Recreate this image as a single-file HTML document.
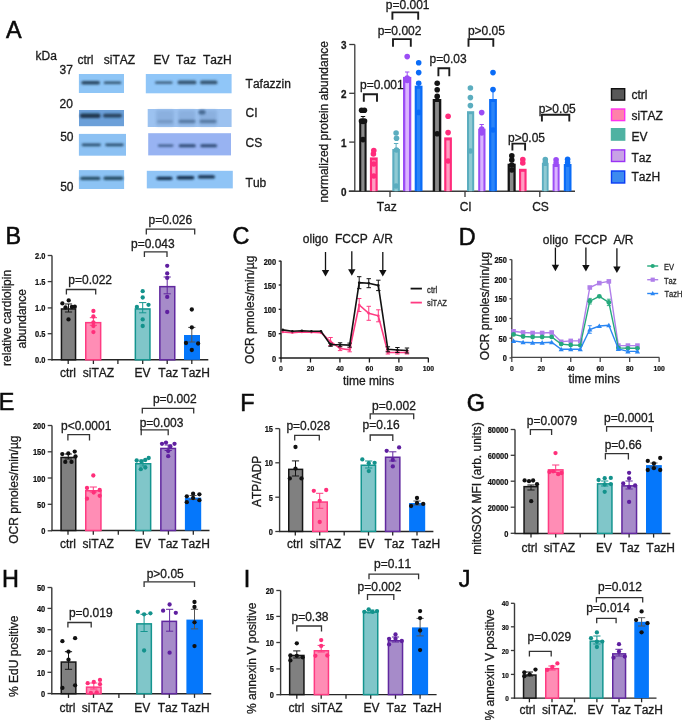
<!DOCTYPE html>
<html><head><meta charset="utf-8"><title>Figure</title>
<style>
html,body{margin:0;padding:0;background:#fff;width:685px;height:720px;overflow:hidden}
svg{display:block;font-family:"Liberation Sans", sans-serif;will-change:transform;font-kerning:none;filter:blur(0.3px)}
</style></head><body>
<svg width="685" height="720" viewBox="0 0 685 720">
<defs><filter id="bl" x="-20%" y="-150%" width="140%" height="400%"><feGaussianBlur stdDeviation="0.85"/></filter><filter id="bl2" x="-30%" y="-30%" width="160%" height="160%"><feGaussianBlur stdDeviation="1.6"/></filter><filter id="bb" x="-5%" y="-10%" width="110%" height="120%"><feGaussianBlur stdDeviation="0.35"/></filter></defs>
<rect x="0" y="0" width="685" height="720" fill="#ffffff"/>
<text x="5.9" y="37.9" font-size="23.4" fill="#0a0a0a" stroke="#0a0a0a" stroke-width="0.55">A</text>
<text x="5.5" y="243.6" font-size="23.4" fill="#0a0a0a" stroke="#0a0a0a" stroke-width="0.55">B</text>
<text x="232.6" y="244.1" font-size="23.4" fill="#0a0a0a" stroke="#0a0a0a" stroke-width="0.55">C</text>
<text x="458.8" y="244.7" font-size="23.4" fill="#0a0a0a" stroke="#0a0a0a" stroke-width="0.55">D</text>
<text x="-1.3" y="410" font-size="23.4" fill="#0a0a0a" stroke="#0a0a0a" stroke-width="0.55">E</text>
<text x="240.2" y="411" font-size="23.4" fill="#0a0a0a" stroke="#0a0a0a" stroke-width="0.55">F</text>
<text x="466.8" y="410.5" font-size="23.4" fill="#0a0a0a" stroke="#0a0a0a" stroke-width="0.55">G</text>
<text x="1.9" y="587" font-size="23.4" fill="#0a0a0a" stroke="#0a0a0a" stroke-width="0.55">H</text>
<text x="243.8" y="586.7" font-size="23.4" fill="#0a0a0a" stroke="#0a0a0a" stroke-width="0.55">I</text>
<text x="458.8" y="586.7" font-size="23.4" fill="#0a0a0a" stroke="#0a0a0a" stroke-width="0.55">J</text>
<line x1="52" y1="255.5" x2="52" y2="360.4" stroke="#3a3a3a" stroke-width="1.4"/>
<line x1="51.3" y1="359.8" x2="208.3" y2="359.8" stroke="#262626" stroke-width="1.45"/>
<line x1="47.7" y1="255.5" x2="52" y2="255.5" stroke="#3a3a3a" stroke-width="1.3"/>
<text x="0" y="0" font-size="8.3" font-weight="bold" text-anchor="end" fill="#111" transform="translate(45.4 259.07) scale(0.9 1)" stroke="#111" stroke-width="0.2">2.0</text>
<line x1="47.7" y1="281.6" x2="52" y2="281.6" stroke="#3a3a3a" stroke-width="1.3"/>
<text x="0" y="0" font-size="8.3" font-weight="bold" text-anchor="end" fill="#111" transform="translate(45.4 285.17) scale(0.9 1)" stroke="#111" stroke-width="0.2">1.5</text>
<line x1="47.7" y1="307.9" x2="52" y2="307.9" stroke="#3a3a3a" stroke-width="1.3"/>
<text x="0" y="0" font-size="8.3" font-weight="bold" text-anchor="end" fill="#111" transform="translate(45.4 311.47) scale(0.9 1)" stroke="#111" stroke-width="0.2">1.0</text>
<line x1="47.7" y1="333.7" x2="52" y2="333.7" stroke="#3a3a3a" stroke-width="1.3"/>
<text x="0" y="0" font-size="8.3" font-weight="bold" text-anchor="end" fill="#111" transform="translate(45.4 337.27) scale(0.9 1)" stroke="#111" stroke-width="0.2">0.5</text>
<line x1="47.7" y1="359.6" x2="52" y2="359.6" stroke="#3a3a3a" stroke-width="1.3"/>
<text x="0" y="0" font-size="8.3" font-weight="bold" text-anchor="end" fill="#111" transform="translate(45.4 363.17) scale(0.9 1)" stroke="#111" stroke-width="0.2">0.0</text>
<line x1="68.2" y1="359.8" x2="68.2" y2="364" stroke="#262626" stroke-width="1.3"/>
<line x1="93.4" y1="359.8" x2="93.4" y2="364" stroke="#262626" stroke-width="1.3"/>
<line x1="117.9" y1="359.8" x2="117.9" y2="364" stroke="#262626" stroke-width="1.3"/>
<line x1="142.7" y1="359.8" x2="142.7" y2="364" stroke="#262626" stroke-width="1.3"/>
<line x1="167.2" y1="359.8" x2="167.2" y2="364" stroke="#262626" stroke-width="1.3"/>
<line x1="191.8" y1="359.8" x2="191.8" y2="364" stroke="#262626" stroke-width="1.3"/>
<rect x="61.45" y="308.95" width="14.1" height="50.85" fill="#808080" stroke="#161616" stroke-width="1.5"/>
<rect x="85.75" y="322.65" width="14.9" height="37.15" fill="#ff8db5" stroke="#ff3b82" stroke-width="1.5"/>
<rect x="135.35" y="308.95" width="14.6" height="50.85" fill="#80c6c9" stroke="#14958f" stroke-width="1.5"/>
<rect x="159.85" y="286.65" width="14.9" height="73.15" fill="#a68bc9" stroke="#61289f" stroke-width="1.5"/>
<rect x="184" y="335" width="16" height="24.8" fill="#0577fb"/>
<line x1="68.5" y1="304" x2="68.5" y2="312" stroke="#161616" stroke-width="1"/>
<line x1="64.9" y1="304" x2="72.1" y2="304" stroke="#161616" stroke-width="1"/>
<line x1="64.9" y1="312" x2="72.1" y2="312" stroke="#161616" stroke-width="1"/>
<line x1="93.4" y1="317.7" x2="93.4" y2="325.3" stroke="#ff3b82" stroke-width="1"/>
<line x1="89.8" y1="317.7" x2="97" y2="317.7" stroke="#ff3b82" stroke-width="1"/>
<line x1="89.8" y1="325.3" x2="97" y2="325.3" stroke="#ff3b82" stroke-width="1"/>
<line x1="142.7" y1="302.6" x2="142.7" y2="312.8" stroke="#14958f" stroke-width="1"/>
<line x1="139.1" y1="302.6" x2="146.3" y2="302.6" stroke="#14958f" stroke-width="1"/>
<line x1="139.1" y1="312.8" x2="146.3" y2="312.8" stroke="#14958f" stroke-width="1"/>
<line x1="167.2" y1="277" x2="167.2" y2="293.8" stroke="#61289f" stroke-width="1"/>
<line x1="163.6" y1="277" x2="170.8" y2="277" stroke="#61289f" stroke-width="1"/>
<line x1="163.6" y1="293.8" x2="170.8" y2="293.8" stroke="#61289f" stroke-width="1"/>
<line x1="191.8" y1="327.4" x2="191.8" y2="342" stroke="#555555" stroke-width="1"/>
<line x1="188.2" y1="327.4" x2="195.4" y2="327.4" stroke="#555555" stroke-width="1"/>
<line x1="188.2" y1="342" x2="195.4" y2="342" stroke="#555555" stroke-width="1"/>
<circle cx="62.4" cy="303.4" r="2.15" fill="#111111"/>
<circle cx="68.7" cy="300.4" r="2.15" fill="#111111"/>
<circle cx="68.5" cy="319.4" r="2.15" fill="#111111"/>
<circle cx="74.8" cy="306.7" r="2.15" fill="#111111"/>
<circle cx="71.9" cy="307" r="2.15" fill="#111111"/>
<circle cx="65.5" cy="307.5" r="2.15" fill="#111111"/>
<circle cx="93.4" cy="311" r="2.15" fill="#ff2f7a"/>
<circle cx="93.4" cy="316.5" r="2.15" fill="#ff2f7a"/>
<circle cx="93.4" cy="322.3" r="2.15" fill="#ff2f7a"/>
<circle cx="93.4" cy="326" r="2.15" fill="#ff2f7a"/>
<circle cx="93.4" cy="332.1" r="2.15" fill="#ff2f7a"/>
<circle cx="142.7" cy="291.2" r="2.15" fill="#13928c"/>
<circle cx="142.7" cy="297.5" r="2.15" fill="#13928c"/>
<circle cx="142.7" cy="319.4" r="2.15" fill="#13928c"/>
<circle cx="142.7" cy="326" r="2.15" fill="#13928c"/>
<circle cx="136.9" cy="307" r="2.15" fill="#13928c"/>
<circle cx="148.5" cy="304.8" r="2.15" fill="#13928c"/>
<circle cx="167.2" cy="265.8" r="2.15" fill="#5f1fa0"/>
<circle cx="167.2" cy="273.4" r="2.15" fill="#5f1fa0"/>
<circle cx="167.2" cy="277.9" r="2.15" fill="#5f1fa0"/>
<circle cx="167.2" cy="296.9" r="2.15" fill="#5f1fa0"/>
<circle cx="167.2" cy="312" r="2.15" fill="#5f1fa0"/>
<circle cx="191.8" cy="309.5" r="2.15" fill="#111111"/>
<circle cx="191.8" cy="327.4" r="2.15" fill="#111111"/>
<circle cx="186" cy="343" r="2.15" fill="#111111"/>
<circle cx="198.1" cy="343.5" r="2.15" fill="#111111"/>
<circle cx="191.8" cy="350" r="2.15" fill="#111111"/>
<text x="59.9" y="377" font-size="12" fill="#1a1a1a" stroke="#1a1a1a" stroke-width="0.3">ctrl</text>
<text x="82.8" y="377" font-size="12" fill="#1a1a1a" stroke="#1a1a1a" stroke-width="0.3">siTAZ</text>
<text x="134.6" y="377" font-size="12" fill="#1a1a1a" stroke="#1a1a1a" stroke-width="0.3">EV</text>
<text x="158.2" y="377" font-size="12" fill="#1a1a1a" stroke="#1a1a1a" stroke-width="0.3">Taz</text>
<text x="181.3" y="377" font-size="12" fill="#1a1a1a" stroke="#1a1a1a" stroke-width="0.3">TazH</text>
<polyline points="66.4,294.6 66.4,289.5 95.7,289.5 95.7,294.6" fill="none" stroke="#333" stroke-width="1.3" stroke-linejoin="miter" stroke-linecap="butt"/>
<text x="68.3" y="283.7" font-size="12" fill="#1a1a1a" stroke="#1a1a1a" stroke-width="0.3">p=0.022</text>
<polyline points="144.4,257 144.4,251.9 167,251.9 167,257" fill="none" stroke="#333" stroke-width="1.3" stroke-linejoin="miter" stroke-linecap="butt"/>
<text x="131" y="247.8" font-size="12" fill="#1a1a1a" stroke="#1a1a1a" stroke-width="0.3">p=0.043</text>
<polyline points="146.3,234.6 146.3,229.2 194.7,229.2 194.7,234.6" fill="none" stroke="#333" stroke-width="1.3" stroke-linejoin="miter" stroke-linecap="butt"/>
<text x="148.5" y="223.6" font-size="12" fill="#1a1a1a" stroke="#1a1a1a" stroke-width="0.3">p=0.026</text>
<text x="10.8" y="317.9" font-size="12" text-anchor="middle" fill="#1a1a1a" transform="rotate(-90 10.8 317.9)" stroke="#1a1a1a" stroke-width="0.3">relative cardiolipin</text>
<text x="26.2" y="318.8" font-size="12" text-anchor="middle" fill="#1a1a1a" transform="rotate(-90 26.2 318.8)" stroke="#1a1a1a" stroke-width="0.3">abundance</text>
<line x1="52" y1="425.5" x2="52" y2="531.1" stroke="#3a3a3a" stroke-width="1.4"/>
<line x1="51.3" y1="530.5" x2="209.5" y2="530.5" stroke="#262626" stroke-width="1.45"/>
<line x1="47.7" y1="425.5" x2="52" y2="425.5" stroke="#3a3a3a" stroke-width="1.3"/>
<text x="0" y="0" font-size="8.3" font-weight="bold" text-anchor="end" fill="#111" transform="translate(45.4 429.07) scale(0.9 1)" stroke="#111" stroke-width="0.2">200</text>
<line x1="47.7" y1="451.8" x2="52" y2="451.8" stroke="#3a3a3a" stroke-width="1.3"/>
<text x="0" y="0" font-size="8.3" font-weight="bold" text-anchor="end" fill="#111" transform="translate(45.4 455.37) scale(0.9 1)" stroke="#111" stroke-width="0.2">150</text>
<line x1="47.7" y1="478" x2="52" y2="478" stroke="#3a3a3a" stroke-width="1.3"/>
<text x="0" y="0" font-size="8.3" font-weight="bold" text-anchor="end" fill="#111" transform="translate(45.4 481.57) scale(0.9 1)" stroke="#111" stroke-width="0.2">100</text>
<line x1="47.7" y1="504.3" x2="52" y2="504.3" stroke="#3a3a3a" stroke-width="1.3"/>
<text x="0" y="0" font-size="8.3" font-weight="bold" text-anchor="end" fill="#111" transform="translate(45.4 507.87) scale(0.9 1)" stroke="#111" stroke-width="0.2">50</text>
<line x1="47.7" y1="530.8" x2="52" y2="530.8" stroke="#3a3a3a" stroke-width="1.3"/>
<text x="0" y="0" font-size="8.3" font-weight="bold" text-anchor="end" fill="#111" transform="translate(45.4 534.37) scale(0.9 1)" stroke="#111" stroke-width="0.2">0</text>
<line x1="68" y1="530.5" x2="68" y2="534.7" stroke="#262626" stroke-width="1.3"/>
<line x1="93.3" y1="530.5" x2="93.3" y2="534.7" stroke="#262626" stroke-width="1.3"/>
<line x1="118.3" y1="530.5" x2="118.3" y2="534.7" stroke="#262626" stroke-width="1.3"/>
<line x1="143.3" y1="530.5" x2="143.3" y2="534.7" stroke="#262626" stroke-width="1.3"/>
<line x1="168.4" y1="530.5" x2="168.4" y2="534.7" stroke="#262626" stroke-width="1.3"/>
<line x1="193.3" y1="530.5" x2="193.3" y2="534.7" stroke="#262626" stroke-width="1.3"/>
<rect x="61.05" y="457.45" width="14.7" height="73.05" fill="#808080" stroke="#161616" stroke-width="1.5"/>
<rect x="85.75" y="490.75" width="15.2" height="39.75" fill="#ff8db5" stroke="#ff3b82" stroke-width="1.5"/>
<rect x="135.75" y="463.75" width="14.9" height="66.75" fill="#80c6c9" stroke="#14958f" stroke-width="1.5"/>
<rect x="160.85" y="448.45" width="14.6" height="82.05" fill="#a68bc9" stroke="#61289f" stroke-width="1.5"/>
<rect x="184.9" y="497.6" width="16.3" height="32.9" fill="#0577fb"/>
<line x1="68.3" y1="454" x2="68.3" y2="459" stroke="#161616" stroke-width="1"/>
<line x1="64.7" y1="454" x2="71.9" y2="454" stroke="#161616" stroke-width="1"/>
<line x1="64.7" y1="459" x2="71.9" y2="459" stroke="#161616" stroke-width="1"/>
<line x1="93.3" y1="487" x2="93.3" y2="492" stroke="#ff3b82" stroke-width="1"/>
<line x1="89.7" y1="487" x2="96.9" y2="487" stroke="#ff3b82" stroke-width="1"/>
<line x1="89.7" y1="492" x2="96.9" y2="492" stroke="#ff3b82" stroke-width="1"/>
<line x1="143" y1="460" x2="143" y2="466" stroke="#14958f" stroke-width="1"/>
<line x1="139.4" y1="460" x2="146.6" y2="460" stroke="#14958f" stroke-width="1"/>
<line x1="139.4" y1="466" x2="146.6" y2="466" stroke="#14958f" stroke-width="1"/>
<line x1="168.2" y1="445" x2="168.2" y2="450.5" stroke="#61289f" stroke-width="1"/>
<line x1="164.6" y1="445" x2="171.8" y2="445" stroke="#61289f" stroke-width="1"/>
<line x1="164.6" y1="450.5" x2="171.8" y2="450.5" stroke="#61289f" stroke-width="1"/>
<line x1="193.1" y1="495.5" x2="193.1" y2="499.5" stroke="#555555" stroke-width="1"/>
<line x1="189.5" y1="495.5" x2="196.7" y2="495.5" stroke="#555555" stroke-width="1"/>
<line x1="189.5" y1="499.5" x2="196.7" y2="499.5" stroke="#555555" stroke-width="1"/>
<circle cx="62.3" cy="454.1" r="2.15" fill="#111111"/>
<circle cx="68.3" cy="453.4" r="2.15" fill="#111111"/>
<circle cx="74.7" cy="451.6" r="2.15" fill="#111111"/>
<circle cx="65.3" cy="461.9" r="2.15" fill="#111111"/>
<circle cx="71.5" cy="461.9" r="2.15" fill="#111111"/>
<circle cx="75.5" cy="456.5" r="2.15" fill="#111111"/>
<circle cx="93.3" cy="475.5" r="2.15" fill="#ff2f7a"/>
<circle cx="87" cy="488" r="2.15" fill="#ff2f7a"/>
<circle cx="93.7" cy="492.5" r="2.15" fill="#ff2f7a"/>
<circle cx="99.7" cy="490" r="2.15" fill="#ff2f7a"/>
<circle cx="87" cy="498.7" r="2.15" fill="#ff2f7a"/>
<circle cx="99.7" cy="495.8" r="2.15" fill="#ff2f7a"/>
<circle cx="136.7" cy="460.5" r="2.15" fill="#13928c"/>
<circle cx="141.3" cy="461.3" r="2.15" fill="#13928c"/>
<circle cx="145.3" cy="460" r="2.15" fill="#13928c"/>
<circle cx="148.7" cy="458" r="2.15" fill="#13928c"/>
<circle cx="140.8" cy="469.2" r="2.15" fill="#13928c"/>
<circle cx="145.3" cy="467.5" r="2.15" fill="#13928c"/>
<circle cx="162" cy="443.8" r="2.15" fill="#5f1fa0"/>
<circle cx="166" cy="442.6" r="2.15" fill="#5f1fa0"/>
<circle cx="170.4" cy="446.4" r="2.15" fill="#5f1fa0"/>
<circle cx="174.5" cy="443.8" r="2.15" fill="#5f1fa0"/>
<circle cx="168.2" cy="451.1" r="2.15" fill="#5f1fa0"/>
<circle cx="168.2" cy="456.2" r="2.15" fill="#5f1fa0"/>
<circle cx="186.8" cy="496.3" r="2.15" fill="#111111"/>
<circle cx="193.1" cy="493.7" r="2.15" fill="#111111"/>
<circle cx="199.4" cy="494.3" r="2.15" fill="#111111"/>
<circle cx="193.1" cy="498" r="2.15" fill="#111111"/>
<circle cx="186.8" cy="502.2" r="2.15" fill="#111111"/>
<circle cx="199.4" cy="500.2" r="2.15" fill="#111111"/>
<text x="60" y="547.5" font-size="12" fill="#1a1a1a" stroke="#1a1a1a" stroke-width="0.3">ctrl</text>
<text x="82.5" y="547.5" font-size="12" fill="#1a1a1a" stroke="#1a1a1a" stroke-width="0.3">siTAZ</text>
<text x="135" y="547.5" font-size="12" fill="#1a1a1a" stroke="#1a1a1a" stroke-width="0.3">EV</text>
<text x="158.3" y="547.5" font-size="12" fill="#1a1a1a" stroke="#1a1a1a" stroke-width="0.3">Taz</text>
<text x="181.2" y="547.5" font-size="12" fill="#1a1a1a" stroke="#1a1a1a" stroke-width="0.3">TazH</text>
<polyline points="67.9,440.5 67.9,434.7 89.5,434.7 89.5,440.5" fill="none" stroke="#333" stroke-width="1.3" stroke-linejoin="miter" stroke-linecap="butt"/>
<text x="61" y="430" font-size="12" fill="#1a1a1a" stroke="#1a1a1a" stroke-width="0.3">p&lt;0.0001</text>
<polyline points="141.2,435.3 141.2,429.9 168.2,429.9 168.2,435.3" fill="none" stroke="#333" stroke-width="1.3" stroke-linejoin="miter" stroke-linecap="butt"/>
<text x="139.7" y="427" font-size="12" fill="#1a1a1a" stroke="#1a1a1a" stroke-width="0.3">p=0.003</text>
<polyline points="142.3,413.6 142.3,408.3 193.7,408.3 193.7,413.6" fill="none" stroke="#333" stroke-width="1.3" stroke-linejoin="miter" stroke-linecap="butt"/>
<text x="152.9" y="403.1" font-size="12" fill="#1a1a1a" stroke="#1a1a1a" stroke-width="0.3">p=0.002</text>
<text x="18.2" y="489.6" font-size="12" text-anchor="middle" fill="#1a1a1a" transform="rotate(-90 18.2 489.6)" stroke="#1a1a1a" stroke-width="0.3">OCR pmoles/min/µg</text>
<line x1="279.6" y1="428.6" x2="279.6" y2="532" stroke="#3a3a3a" stroke-width="1.4"/>
<line x1="278.9" y1="531.4" x2="433.4" y2="531.4" stroke="#262626" stroke-width="1.45"/>
<line x1="275.3" y1="428.6" x2="279.6" y2="428.6" stroke="#3a3a3a" stroke-width="1.3"/>
<text x="0" y="0" font-size="8.3" font-weight="bold" text-anchor="end" fill="#111" transform="translate(273 432.17) scale(0.9 1)" stroke="#111" stroke-width="0.2">15</text>
<line x1="275.3" y1="462.8" x2="279.6" y2="462.8" stroke="#3a3a3a" stroke-width="1.3"/>
<text x="0" y="0" font-size="8.3" font-weight="bold" text-anchor="end" fill="#111" transform="translate(273 466.37) scale(0.9 1)" stroke="#111" stroke-width="0.2">10</text>
<line x1="275.3" y1="497.2" x2="279.6" y2="497.2" stroke="#3a3a3a" stroke-width="1.3"/>
<text x="0" y="0" font-size="8.3" font-weight="bold" text-anchor="end" fill="#111" transform="translate(273 500.77) scale(0.9 1)" stroke="#111" stroke-width="0.2">5</text>
<line x1="275.3" y1="531.5" x2="279.6" y2="531.5" stroke="#3a3a3a" stroke-width="1.3"/>
<text x="0" y="0" font-size="8.3" font-weight="bold" text-anchor="end" fill="#111" transform="translate(273 535.07) scale(0.9 1)" stroke="#111" stroke-width="0.2">0</text>
<line x1="295.3" y1="531.4" x2="295.3" y2="535.6" stroke="#262626" stroke-width="1.3"/>
<line x1="319.7" y1="531.4" x2="319.7" y2="535.6" stroke="#262626" stroke-width="1.3"/>
<line x1="344.2" y1="531.4" x2="344.2" y2="535.6" stroke="#262626" stroke-width="1.3"/>
<line x1="368.5" y1="531.4" x2="368.5" y2="535.6" stroke="#262626" stroke-width="1.3"/>
<line x1="392.7" y1="531.4" x2="392.7" y2="535.6" stroke="#262626" stroke-width="1.3"/>
<line x1="417" y1="531.4" x2="417" y2="535.6" stroke="#262626" stroke-width="1.3"/>
<rect x="288.75" y="469.35" width="13.8" height="62.05" fill="#808080" stroke="#161616" stroke-width="1.5"/>
<rect x="312.75" y="502.05" width="14.5" height="29.35" fill="#ff8db5" stroke="#ff3b82" stroke-width="1.5"/>
<rect x="361.25" y="465.25" width="14.3" height="66.15" fill="#80c6c9" stroke="#14958f" stroke-width="1.5"/>
<rect x="385.55" y="457.25" width="14.3" height="74.15" fill="#a68bc9" stroke="#61289f" stroke-width="1.5"/>
<rect x="409.1" y="503" width="16.1" height="28.4" fill="#0577fb"/>
<line x1="295.5" y1="460.9" x2="295.5" y2="476" stroke="#161616" stroke-width="1"/>
<line x1="291.9" y1="460.9" x2="299.1" y2="460.9" stroke="#161616" stroke-width="1"/>
<line x1="291.9" y1="476" x2="299.1" y2="476" stroke="#161616" stroke-width="1"/>
<line x1="319.7" y1="493.3" x2="319.7" y2="508.3" stroke="#ff3b82" stroke-width="1"/>
<line x1="316.1" y1="493.3" x2="323.3" y2="493.3" stroke="#ff3b82" stroke-width="1"/>
<line x1="316.1" y1="508.3" x2="323.3" y2="508.3" stroke="#ff3b82" stroke-width="1"/>
<line x1="368.7" y1="461" x2="368.7" y2="468" stroke="#14958f" stroke-width="1"/>
<line x1="365.1" y1="461" x2="372.3" y2="461" stroke="#14958f" stroke-width="1"/>
<line x1="365.1" y1="468" x2="372.3" y2="468" stroke="#14958f" stroke-width="1"/>
<line x1="392.8" y1="451.8" x2="392.8" y2="461" stroke="#61289f" stroke-width="1"/>
<line x1="389.2" y1="451.8" x2="396.4" y2="451.8" stroke="#61289f" stroke-width="1"/>
<line x1="389.2" y1="461" x2="396.4" y2="461" stroke="#61289f" stroke-width="1"/>
<line x1="417" y1="501" x2="417" y2="505" stroke="#555555" stroke-width="1"/>
<line x1="413.4" y1="501" x2="420.6" y2="501" stroke="#555555" stroke-width="1"/>
<line x1="413.4" y1="505" x2="420.6" y2="505" stroke="#555555" stroke-width="1"/>
<circle cx="295.5" cy="447" r="2.15" fill="#111111"/>
<circle cx="295.5" cy="468.6" r="2.15" fill="#111111"/>
<circle cx="289.8" cy="478.4" r="2.15" fill="#111111"/>
<circle cx="301.5" cy="478.4" r="2.15" fill="#111111"/>
<circle cx="313.8" cy="490.8" r="2.15" fill="#ff2f7a"/>
<circle cx="326.2" cy="490" r="2.15" fill="#ff2f7a"/>
<circle cx="319.7" cy="500.8" r="2.15" fill="#ff2f7a"/>
<circle cx="319.7" cy="522" r="2.15" fill="#ff2f7a"/>
<circle cx="362.3" cy="459.4" r="2.15" fill="#13928c"/>
<circle cx="368.8" cy="463.2" r="2.15" fill="#13928c"/>
<circle cx="374.6" cy="462.8" r="2.15" fill="#13928c"/>
<circle cx="368.8" cy="471.1" r="2.15" fill="#13928c"/>
<circle cx="386.7" cy="450.8" r="2.15" fill="#5f1fa0"/>
<circle cx="399.1" cy="447.4" r="2.15" fill="#5f1fa0"/>
<circle cx="392.8" cy="459.9" r="2.15" fill="#5f1fa0"/>
<circle cx="392.8" cy="466.4" r="2.15" fill="#5f1fa0"/>
<circle cx="417" cy="498" r="2.15" fill="#111111"/>
<circle cx="411.1" cy="506" r="2.15" fill="#111111"/>
<circle cx="417" cy="503" r="2.15" fill="#111111"/>
<circle cx="423.2" cy="503.9" r="2.15" fill="#111111"/>
<text x="287" y="548" font-size="12" fill="#1a1a1a" stroke="#1a1a1a" stroke-width="0.3">ctrl</text>
<text x="309.7" y="548" font-size="12" fill="#1a1a1a" stroke="#1a1a1a" stroke-width="0.3">siTAZ</text>
<text x="358.5" y="548" font-size="12" fill="#1a1a1a" stroke="#1a1a1a" stroke-width="0.3">EV</text>
<text x="384.4" y="548" font-size="12" fill="#1a1a1a" stroke="#1a1a1a" stroke-width="0.3">Taz</text>
<text x="411.5" y="548" font-size="12" fill="#1a1a1a" stroke="#1a1a1a" stroke-width="0.3">TazH</text>
<polyline points="294.7,440.5 294.7,435.4 319.3,435.4 319.3,440.5" fill="none" stroke="#333" stroke-width="1.3" stroke-linejoin="miter" stroke-linecap="butt"/>
<text x="286.4" y="429.5" font-size="12" fill="#1a1a1a" stroke="#1a1a1a" stroke-width="0.3">p=0.028</text>
<polyline points="370.2,440.9 370.2,435 392.8,435 392.8,440.9" fill="none" stroke="#333" stroke-width="1.3" stroke-linejoin="miter" stroke-linecap="butt"/>
<text x="362.6" y="429.2" font-size="12" fill="#1a1a1a" stroke="#1a1a1a" stroke-width="0.3">p=0.16</text>
<polyline points="370.2,419.3 370.2,413.9 413.7,413.9 413.7,419.3" fill="none" stroke="#333" stroke-width="1.3" stroke-linejoin="miter" stroke-linecap="butt"/>
<text x="372.1" y="409.5" font-size="12" fill="#1a1a1a" stroke="#1a1a1a" stroke-width="0.3">p=0.002</text>
<text x="260.6" y="481.3" font-size="12" text-anchor="middle" fill="#1a1a1a" transform="rotate(-90 260.6 481.3)" stroke="#1a1a1a" stroke-width="0.3">ATP/ADP</text>
<line x1="515" y1="429.5" x2="515" y2="534" stroke="#3a3a3a" stroke-width="1.4"/>
<line x1="514.3" y1="533.4" x2="670.4" y2="533.4" stroke="#262626" stroke-width="1.45"/>
<line x1="510.7" y1="429.5" x2="515" y2="429.5" stroke="#3a3a3a" stroke-width="1.3"/>
<text x="0" y="0" font-size="8.3" font-weight="bold" text-anchor="end" fill="#111" transform="translate(508.4 433.07) scale(0.9 1)" stroke="#111" stroke-width="0.2">80000</text>
<line x1="510.7" y1="455.3" x2="515" y2="455.3" stroke="#3a3a3a" stroke-width="1.3"/>
<text x="0" y="0" font-size="8.3" font-weight="bold" text-anchor="end" fill="#111" transform="translate(508.4 458.87) scale(0.9 1)" stroke="#111" stroke-width="0.2">60000</text>
<line x1="510.7" y1="481.2" x2="515" y2="481.2" stroke="#3a3a3a" stroke-width="1.3"/>
<text x="0" y="0" font-size="8.3" font-weight="bold" text-anchor="end" fill="#111" transform="translate(508.4 484.77) scale(0.9 1)" stroke="#111" stroke-width="0.2">40000</text>
<line x1="510.7" y1="507.2" x2="515" y2="507.2" stroke="#3a3a3a" stroke-width="1.3"/>
<text x="0" y="0" font-size="8.3" font-weight="bold" text-anchor="end" fill="#111" transform="translate(508.4 510.77) scale(0.9 1)" stroke="#111" stroke-width="0.2">20000</text>
<line x1="510.7" y1="533.3" x2="515" y2="533.3" stroke="#3a3a3a" stroke-width="1.3"/>
<text x="0" y="0" font-size="8.3" font-weight="bold" text-anchor="end" fill="#111" transform="translate(508.4 536.87) scale(0.9 1)" stroke="#111" stroke-width="0.2">0</text>
<line x1="531" y1="533.4" x2="531" y2="537.6" stroke="#262626" stroke-width="1.3"/>
<line x1="555.7" y1="533.4" x2="555.7" y2="537.6" stroke="#262626" stroke-width="1.3"/>
<line x1="580.2" y1="533.4" x2="580.2" y2="537.6" stroke="#262626" stroke-width="1.3"/>
<line x1="604.4" y1="533.4" x2="604.4" y2="537.6" stroke="#262626" stroke-width="1.3"/>
<line x1="629.1" y1="533.4" x2="629.1" y2="537.6" stroke="#262626" stroke-width="1.3"/>
<line x1="653.6" y1="533.4" x2="653.6" y2="537.6" stroke="#262626" stroke-width="1.3"/>
<rect x="524.05" y="486.65" width="13.8" height="46.75" fill="#808080" stroke="#161616" stroke-width="1.5"/>
<rect x="548.45" y="469.85" width="14.5" height="63.55" fill="#ff8db5" stroke="#ff3b82" stroke-width="1.5"/>
<rect x="597.55" y="483.85" width="14.4" height="49.55" fill="#80c6c9" stroke="#14958f" stroke-width="1.5"/>
<rect x="621.95" y="485.85" width="14.6" height="47.55" fill="#a68bc9" stroke="#61289f" stroke-width="1.5"/>
<rect x="646" y="465.1" width="15.8" height="68.3" fill="#0577fb"/>
<line x1="531" y1="485" x2="531" y2="490" stroke="#161616" stroke-width="1"/>
<line x1="527.4" y1="485" x2="534.6" y2="485" stroke="#161616" stroke-width="1"/>
<line x1="527.4" y1="490" x2="534.6" y2="490" stroke="#161616" stroke-width="1"/>
<line x1="555.7" y1="465" x2="555.7" y2="472.5" stroke="#ff3b82" stroke-width="1"/>
<line x1="552.1" y1="465" x2="559.3" y2="465" stroke="#ff3b82" stroke-width="1"/>
<line x1="552.1" y1="472.5" x2="559.3" y2="472.5" stroke="#ff3b82" stroke-width="1"/>
<line x1="604.7" y1="481" x2="604.7" y2="486" stroke="#14958f" stroke-width="1"/>
<line x1="601.1" y1="481" x2="608.3" y2="481" stroke="#14958f" stroke-width="1"/>
<line x1="601.1" y1="486" x2="608.3" y2="486" stroke="#14958f" stroke-width="1"/>
<line x1="629.1" y1="481" x2="629.1" y2="489" stroke="#61289f" stroke-width="1"/>
<line x1="625.5" y1="481" x2="632.7" y2="481" stroke="#61289f" stroke-width="1"/>
<line x1="625.5" y1="489" x2="632.7" y2="489" stroke="#61289f" stroke-width="1"/>
<line x1="653.9" y1="463" x2="653.9" y2="467" stroke="#555555" stroke-width="1"/>
<line x1="650.3" y1="463" x2="657.5" y2="463" stroke="#555555" stroke-width="1"/>
<line x1="650.3" y1="467" x2="657.5" y2="467" stroke="#555555" stroke-width="1"/>
<circle cx="524.6" cy="480.4" r="2.15" fill="#111111"/>
<circle cx="529" cy="481.2" r="2.15" fill="#111111"/>
<circle cx="533.1" cy="480.5" r="2.15" fill="#111111"/>
<circle cx="537" cy="484.2" r="2.15" fill="#111111"/>
<circle cx="531.2" cy="501.2" r="2.15" fill="#111111"/>
<circle cx="555.5" cy="453.1" r="2.15" fill="#ff2f7a"/>
<circle cx="549.4" cy="472" r="2.15" fill="#ff2f7a"/>
<circle cx="558.2" cy="474.2" r="2.15" fill="#ff2f7a"/>
<circle cx="553.1" cy="471.3" r="2.15" fill="#ff2f7a"/>
<circle cx="561.5" cy="473" r="2.15" fill="#ff2f7a"/>
<circle cx="598.6" cy="480" r="2.15" fill="#13928c"/>
<circle cx="604.7" cy="478.2" r="2.15" fill="#13928c"/>
<circle cx="610.8" cy="477.9" r="2.15" fill="#13928c"/>
<circle cx="604.7" cy="484.5" r="2.15" fill="#13928c"/>
<circle cx="610.8" cy="484.1" r="2.15" fill="#13928c"/>
<circle cx="604.7" cy="491.8" r="2.15" fill="#13928c"/>
<circle cx="629.1" cy="472.8" r="2.15" fill="#5f1fa0"/>
<circle cx="629.1" cy="478.5" r="2.15" fill="#5f1fa0"/>
<circle cx="623.2" cy="483.4" r="2.15" fill="#5f1fa0"/>
<circle cx="635.1" cy="485.5" r="2.15" fill="#5f1fa0"/>
<circle cx="629.1" cy="487" r="2.15" fill="#5f1fa0"/>
<circle cx="629.1" cy="501.9" r="2.15" fill="#5f1fa0"/>
<circle cx="647.8" cy="460.9" r="2.15" fill="#111111"/>
<circle cx="653.9" cy="463.5" r="2.15" fill="#111111"/>
<circle cx="660.2" cy="458" r="2.15" fill="#111111"/>
<circle cx="647.8" cy="470" r="2.15" fill="#111111"/>
<circle cx="653.9" cy="468.2" r="2.15" fill="#111111"/>
<circle cx="660.2" cy="470" r="2.15" fill="#111111"/>
<text x="521.4" y="552.4" font-size="12" fill="#1a1a1a" stroke="#1a1a1a" stroke-width="0.3">ctrl</text>
<text x="543.7" y="552.4" font-size="12" fill="#1a1a1a" stroke="#1a1a1a" stroke-width="0.3">siTAZ</text>
<text x="596" y="552.4" font-size="12" fill="#1a1a1a" stroke="#1a1a1a" stroke-width="0.3">EV</text>
<text x="619.7" y="552.4" font-size="12" fill="#1a1a1a" stroke="#1a1a1a" stroke-width="0.3">Taz</text>
<text x="646.3" y="552.4" font-size="12" fill="#1a1a1a" stroke="#1a1a1a" stroke-width="0.3">TazH</text>
<polyline points="530.4,435.1 530.4,429.7 551.6,429.7 551.6,435.1" fill="none" stroke="#333" stroke-width="1.3" stroke-linejoin="miter" stroke-linecap="butt"/>
<text x="526.8" y="424.6" font-size="12" fill="#1a1a1a" stroke="#1a1a1a" stroke-width="0.3">p=0.0079</text>
<polyline points="605.4,459.5 605.4,453.6 628.4,453.6 628.4,459.5" fill="none" stroke="#333" stroke-width="1.3" stroke-linejoin="miter" stroke-linecap="butt"/>
<text x="604.7" y="449.2" font-size="12" fill="#1a1a1a" stroke="#1a1a1a" stroke-width="0.3">p=0.66</text>
<polyline points="606.6,431.7 606.6,426.6 651.4,426.6 651.4,431.7" fill="none" stroke="#333" stroke-width="1.3" stroke-linejoin="miter" stroke-linecap="butt"/>
<text x="604" y="421.8" font-size="12" fill="#1a1a1a" stroke="#1a1a1a" stroke-width="0.3">p=0.0001</text>
<text x="481" y="488.5" font-size="12" text-anchor="middle" fill="#1a1a1a" transform="rotate(-90 481 488.5)" stroke="#1a1a1a" stroke-width="0.3">mitoSOX MFI (arb. units)</text>
<line x1="51.8" y1="587.5" x2="51.8" y2="694.3" stroke="#3a3a3a" stroke-width="1.4"/>
<line x1="51.1" y1="693.7" x2="211.2" y2="693.7" stroke="#262626" stroke-width="1.45"/>
<line x1="47.5" y1="587.5" x2="51.8" y2="587.5" stroke="#3a3a3a" stroke-width="1.3"/>
<text x="0" y="0" font-size="8.3" font-weight="bold" text-anchor="end" fill="#111" transform="translate(45.2 591.07) scale(0.9 1)" stroke="#111" stroke-width="0.2">50</text>
<line x1="47.5" y1="608.4" x2="51.8" y2="608.4" stroke="#3a3a3a" stroke-width="1.3"/>
<text x="0" y="0" font-size="8.3" font-weight="bold" text-anchor="end" fill="#111" transform="translate(45.2 611.97) scale(0.9 1)" stroke="#111" stroke-width="0.2">40</text>
<line x1="47.5" y1="629.7" x2="51.8" y2="629.7" stroke="#3a3a3a" stroke-width="1.3"/>
<text x="0" y="0" font-size="8.3" font-weight="bold" text-anchor="end" fill="#111" transform="translate(45.2 633.27) scale(0.9 1)" stroke="#111" stroke-width="0.2">30</text>
<line x1="47.5" y1="651.2" x2="51.8" y2="651.2" stroke="#3a3a3a" stroke-width="1.3"/>
<text x="0" y="0" font-size="8.3" font-weight="bold" text-anchor="end" fill="#111" transform="translate(45.2 654.77) scale(0.9 1)" stroke="#111" stroke-width="0.2">20</text>
<line x1="47.5" y1="672.3" x2="51.8" y2="672.3" stroke="#3a3a3a" stroke-width="1.3"/>
<text x="0" y="0" font-size="8.3" font-weight="bold" text-anchor="end" fill="#111" transform="translate(45.2 675.87) scale(0.9 1)" stroke="#111" stroke-width="0.2">10</text>
<line x1="47.5" y1="693.5" x2="51.8" y2="693.5" stroke="#3a3a3a" stroke-width="1.3"/>
<text x="0" y="0" font-size="8.3" font-weight="bold" text-anchor="end" fill="#111" transform="translate(45.2 697.07) scale(0.9 1)" stroke="#111" stroke-width="0.2">0</text>
<line x1="68.5" y1="693.7" x2="68.5" y2="697.9" stroke="#262626" stroke-width="1.3"/>
<line x1="93.5" y1="693.7" x2="93.5" y2="697.9" stroke="#262626" stroke-width="1.3"/>
<line x1="118.9" y1="693.7" x2="118.9" y2="697.9" stroke="#262626" stroke-width="1.3"/>
<line x1="144.1" y1="693.7" x2="144.1" y2="697.9" stroke="#262626" stroke-width="1.3"/>
<line x1="169.3" y1="693.7" x2="169.3" y2="697.9" stroke="#262626" stroke-width="1.3"/>
<line x1="194.5" y1="693.7" x2="194.5" y2="697.9" stroke="#262626" stroke-width="1.3"/>
<rect x="61.25" y="662.05" width="14.6" height="31.65" fill="#808080" stroke="#161616" stroke-width="1.5"/>
<rect x="86.55" y="687.15" width="14.5" height="6.55" fill="#ff8db5" stroke="#ff3b82" stroke-width="1.5"/>
<rect x="136.85" y="623.85" width="14.5" height="69.85" fill="#80c6c9" stroke="#14958f" stroke-width="1.5"/>
<rect x="162.05" y="621.35" width="14.4" height="72.35" fill="#a68bc9" stroke="#61289f" stroke-width="1.5"/>
<rect x="186.4" y="619.6" width="16.5" height="74.1" fill="#0577fb"/>
<line x1="68.5" y1="651.7" x2="68.5" y2="669.3" stroke="#161616" stroke-width="1"/>
<line x1="64.9" y1="651.7" x2="72.1" y2="651.7" stroke="#161616" stroke-width="1"/>
<line x1="64.9" y1="669.3" x2="72.1" y2="669.3" stroke="#161616" stroke-width="1"/>
<line x1="93.8" y1="683" x2="93.8" y2="689" stroke="#ff3b82" stroke-width="1"/>
<line x1="90.2" y1="683" x2="97.4" y2="683" stroke="#ff3b82" stroke-width="1"/>
<line x1="90.2" y1="689" x2="97.4" y2="689" stroke="#ff3b82" stroke-width="1"/>
<line x1="144.1" y1="614.3" x2="144.1" y2="631.5" stroke="#14958f" stroke-width="1"/>
<line x1="140.5" y1="614.3" x2="147.7" y2="614.3" stroke="#14958f" stroke-width="1"/>
<line x1="140.5" y1="631.5" x2="147.7" y2="631.5" stroke="#14958f" stroke-width="1"/>
<line x1="169.6" y1="609.3" x2="169.6" y2="631.2" stroke="#61289f" stroke-width="1"/>
<line x1="166" y1="609.3" x2="173.2" y2="609.3" stroke="#61289f" stroke-width="1"/>
<line x1="166" y1="631.2" x2="173.2" y2="631.2" stroke="#61289f" stroke-width="1"/>
<line x1="194.5" y1="609.3" x2="194.5" y2="628.9" stroke="#555555" stroke-width="1"/>
<line x1="190.9" y1="609.3" x2="198.1" y2="609.3" stroke="#555555" stroke-width="1"/>
<line x1="190.9" y1="628.9" x2="198.1" y2="628.9" stroke="#555555" stroke-width="1"/>
<circle cx="62.4" cy="641.2" r="2.15" fill="#111111"/>
<circle cx="75.1" cy="638.2" r="2.15" fill="#111111"/>
<circle cx="68.5" cy="651.7" r="2.15" fill="#111111"/>
<circle cx="68.5" cy="659.7" r="2.15" fill="#111111"/>
<circle cx="62.4" cy="687.9" r="2.15" fill="#111111"/>
<circle cx="75.1" cy="685.3" r="2.15" fill="#111111"/>
<circle cx="87.7" cy="683.2" r="2.15" fill="#ff2f7a"/>
<circle cx="93.8" cy="682" r="2.15" fill="#ff2f7a"/>
<circle cx="100" cy="679.9" r="2.15" fill="#ff2f7a"/>
<circle cx="100" cy="684.2" r="2.15" fill="#ff2f7a"/>
<circle cx="90.9" cy="693" r="2.15" fill="#ff2f7a"/>
<circle cx="96.7" cy="692.3" r="2.15" fill="#ff2f7a"/>
<circle cx="137.8" cy="611.8" r="2.15" fill="#13928c"/>
<circle cx="144.1" cy="614.3" r="2.15" fill="#13928c"/>
<circle cx="150.4" cy="613.3" r="2.15" fill="#13928c"/>
<circle cx="144.1" cy="650.5" r="2.15" fill="#13928c"/>
<circle cx="169.6" cy="604.5" r="2.15" fill="#5f1fa0"/>
<circle cx="163.1" cy="610.7" r="2.15" fill="#5f1fa0"/>
<circle cx="175.8" cy="612.8" r="2.15" fill="#5f1fa0"/>
<circle cx="169.6" cy="652.7" r="2.15" fill="#5f1fa0"/>
<circle cx="194.5" cy="602" r="2.15" fill="#111111"/>
<circle cx="194.5" cy="607" r="2.15" fill="#111111"/>
<circle cx="194.5" cy="622.3" r="2.15" fill="#111111"/>
<circle cx="194.5" cy="646.1" r="2.15" fill="#111111"/>
<text x="59.5" y="712" font-size="12" fill="#1a1a1a" stroke="#1a1a1a" stroke-width="0.3">ctrl</text>
<text x="81.8" y="712" font-size="12" fill="#1a1a1a" stroke="#1a1a1a" stroke-width="0.3">siTAZ</text>
<text x="134.2" y="712" font-size="12" fill="#1a1a1a" stroke="#1a1a1a" stroke-width="0.3">EV</text>
<text x="157.7" y="712" font-size="12" fill="#1a1a1a" stroke="#1a1a1a" stroke-width="0.3">Taz</text>
<text x="181" y="712" font-size="12" fill="#1a1a1a" stroke="#1a1a1a" stroke-width="0.3">TazH</text>
<polyline points="67.9,627.4 67.9,622.5 91.2,622.5 91.2,627.4" fill="none" stroke="#333" stroke-width="1.3" stroke-linejoin="miter" stroke-linecap="butt"/>
<text x="68.9" y="617.4" font-size="12" fill="#1a1a1a" stroke="#1a1a1a" stroke-width="0.3">p=0.019</text>
<polyline points="144.1,587 144.1,581.9 194.5,581.9 194.5,587" fill="none" stroke="#333" stroke-width="1.3" stroke-linejoin="miter" stroke-linecap="butt"/>
<text x="146.7" y="578.2" font-size="12" fill="#1a1a1a" stroke="#1a1a1a" stroke-width="0.3">p&gt;0.05</text>
<text x="18" y="656.2" font-size="12" text-anchor="middle" fill="#1a1a1a" transform="rotate(-90 18 656.2)" stroke="#1a1a1a" stroke-width="0.3">% EdU positive</text>
<line x1="280.6" y1="590.5" x2="280.6" y2="695.2" stroke="#3a3a3a" stroke-width="1.4"/>
<line x1="279.9" y1="694.6" x2="436.6" y2="694.6" stroke="#262626" stroke-width="1.45"/>
<line x1="276.3" y1="590.5" x2="280.6" y2="590.5" stroke="#3a3a3a" stroke-width="1.3"/>
<text x="0" y="0" font-size="8.3" font-weight="bold" text-anchor="end" fill="#111" transform="translate(274 594.07) scale(0.9 1)" stroke="#111" stroke-width="0.2">20</text>
<line x1="276.3" y1="616.4" x2="280.6" y2="616.4" stroke="#3a3a3a" stroke-width="1.3"/>
<text x="0" y="0" font-size="8.3" font-weight="bold" text-anchor="end" fill="#111" transform="translate(274 619.97) scale(0.9 1)" stroke="#111" stroke-width="0.2">15</text>
<line x1="276.3" y1="642.5" x2="280.6" y2="642.5" stroke="#3a3a3a" stroke-width="1.3"/>
<text x="0" y="0" font-size="8.3" font-weight="bold" text-anchor="end" fill="#111" transform="translate(274 646.07) scale(0.9 1)" stroke="#111" stroke-width="0.2">10</text>
<line x1="276.3" y1="668.9" x2="280.6" y2="668.9" stroke="#3a3a3a" stroke-width="1.3"/>
<text x="0" y="0" font-size="8.3" font-weight="bold" text-anchor="end" fill="#111" transform="translate(274 672.47) scale(0.9 1)" stroke="#111" stroke-width="0.2">5</text>
<line x1="276.3" y1="694.7" x2="280.6" y2="694.7" stroke="#3a3a3a" stroke-width="1.3"/>
<text x="0" y="0" font-size="8.3" font-weight="bold" text-anchor="end" fill="#111" transform="translate(274 698.27) scale(0.9 1)" stroke="#111" stroke-width="0.2">0</text>
<line x1="296.8" y1="694.6" x2="296.8" y2="698.8" stroke="#262626" stroke-width="1.3"/>
<line x1="321.2" y1="694.6" x2="321.2" y2="698.8" stroke="#262626" stroke-width="1.3"/>
<line x1="346" y1="694.6" x2="346" y2="698.8" stroke="#262626" stroke-width="1.3"/>
<line x1="370.7" y1="694.6" x2="370.7" y2="698.8" stroke="#262626" stroke-width="1.3"/>
<line x1="395.5" y1="694.6" x2="395.5" y2="698.8" stroke="#262626" stroke-width="1.3"/>
<line x1="420.1" y1="694.6" x2="420.1" y2="698.8" stroke="#262626" stroke-width="1.3"/>
<rect x="289.65" y="655.45" width="14.3" height="39.15" fill="#808080" stroke="#161616" stroke-width="1.5"/>
<rect x="314.35" y="650.75" width="14.1" height="43.85" fill="#ff8db5" stroke="#ff3b82" stroke-width="1.5"/>
<rect x="363.55" y="612.15" width="14.2" height="82.45" fill="#80c6c9" stroke="#14958f" stroke-width="1.5"/>
<rect x="388.45" y="640.75" width="14.1" height="53.85" fill="#a68bc9" stroke="#61289f" stroke-width="1.5"/>
<rect x="412" y="627.4" width="16.1" height="67.2" fill="#0577fb"/>
<line x1="296.8" y1="650.9" x2="296.8" y2="658" stroke="#161616" stroke-width="1"/>
<line x1="293.2" y1="650.9" x2="300.4" y2="650.9" stroke="#161616" stroke-width="1"/>
<line x1="293.2" y1="658" x2="300.4" y2="658" stroke="#161616" stroke-width="1"/>
<line x1="321.2" y1="645.4" x2="321.2" y2="652" stroke="#ff3b82" stroke-width="1"/>
<line x1="317.6" y1="645.4" x2="324.8" y2="645.4" stroke="#ff3b82" stroke-width="1"/>
<line x1="317.6" y1="652" x2="324.8" y2="652" stroke="#ff3b82" stroke-width="1"/>
<line x1="370.7" y1="610" x2="370.7" y2="613" stroke="#14958f" stroke-width="1"/>
<line x1="367.1" y1="610" x2="374.3" y2="610" stroke="#14958f" stroke-width="1"/>
<line x1="367.1" y1="613" x2="374.3" y2="613" stroke="#14958f" stroke-width="1"/>
<line x1="395.5" y1="637" x2="395.5" y2="642" stroke="#61289f" stroke-width="1"/>
<line x1="391.9" y1="637" x2="399.1" y2="637" stroke="#61289f" stroke-width="1"/>
<line x1="391.9" y1="642" x2="399.1" y2="642" stroke="#61289f" stroke-width="1"/>
<line x1="420.1" y1="618.4" x2="420.1" y2="635.9" stroke="#555555" stroke-width="1"/>
<line x1="416.5" y1="618.4" x2="423.7" y2="618.4" stroke="#555555" stroke-width="1"/>
<line x1="416.5" y1="635.9" x2="423.7" y2="635.9" stroke="#555555" stroke-width="1"/>
<circle cx="296.8" cy="643.3" r="2.15" fill="#111111"/>
<circle cx="290.4" cy="655.5" r="2.15" fill="#111111"/>
<circle cx="302.6" cy="657.3" r="2.15" fill="#111111"/>
<circle cx="290.4" cy="660.4" r="2.15" fill="#111111"/>
<circle cx="296.8" cy="655.8" r="2.15" fill="#111111"/>
<circle cx="321.2" cy="640.1" r="2.15" fill="#ff2f7a"/>
<circle cx="321.2" cy="645.9" r="2.15" fill="#ff2f7a"/>
<circle cx="315.4" cy="655.8" r="2.15" fill="#ff2f7a"/>
<circle cx="327.3" cy="655.5" r="2.15" fill="#ff2f7a"/>
<circle cx="364.3" cy="611.8" r="2.15" fill="#13928c"/>
<circle cx="368.7" cy="609.3" r="2.15" fill="#13928c"/>
<circle cx="372.6" cy="611.8" r="2.15" fill="#13928c"/>
<circle cx="377" cy="611.1" r="2.15" fill="#13928c"/>
<circle cx="395.5" cy="634.5" r="2.15" fill="#5f1fa0"/>
<circle cx="389.1" cy="638.8" r="2.15" fill="#5f1fa0"/>
<circle cx="389.1" cy="644.4" r="2.15" fill="#5f1fa0"/>
<circle cx="401.8" cy="641" r="2.15" fill="#5f1fa0"/>
<circle cx="395.5" cy="638.8" r="2.15" fill="#5f1fa0"/>
<circle cx="420.1" cy="611.1" r="2.15" fill="#111111"/>
<circle cx="420.1" cy="618.1" r="2.15" fill="#111111"/>
<circle cx="420.1" cy="630.5" r="2.15" fill="#111111"/>
<circle cx="420.1" cy="650.1" r="2.15" fill="#111111"/>
<text x="288.4" y="712.2" font-size="12" fill="#1a1a1a" stroke="#1a1a1a" stroke-width="0.3">ctrl</text>
<text x="311.3" y="712.2" font-size="12" fill="#1a1a1a" stroke="#1a1a1a" stroke-width="0.3">siTAZ</text>
<text x="363.4" y="712.2" font-size="12" fill="#1a1a1a" stroke="#1a1a1a" stroke-width="0.3">EV</text>
<text x="386.5" y="712.2" font-size="12" fill="#1a1a1a" stroke="#1a1a1a" stroke-width="0.3">Taz</text>
<text x="413" y="712.2" font-size="12" fill="#1a1a1a" stroke="#1a1a1a" stroke-width="0.3">TazH</text>
<polyline points="296.8,631.4 296.8,626 321.5,626 321.5,631.4" fill="none" stroke="#333" stroke-width="1.3" stroke-linejoin="miter" stroke-linecap="butt"/>
<text x="291.5" y="620.7" font-size="12" fill="#1a1a1a" stroke="#1a1a1a" stroke-width="0.3">p=0.38</text>
<polyline points="367.5,600.1 367.5,594.6 393.8,594.6 393.8,600.1" fill="none" stroke="#333" stroke-width="1.3" stroke-linejoin="miter" stroke-linecap="butt"/>
<text x="357.6" y="591.4" font-size="12" fill="#1a1a1a" stroke="#1a1a1a" stroke-width="0.3">p=0.002</text>
<polyline points="369,579.3 369,574.2 418.6,574.2 418.6,579.3" fill="none" stroke="#333" stroke-width="1.3" stroke-linejoin="miter" stroke-linecap="butt"/>
<text x="374.1" y="568" font-size="12" fill="#1a1a1a" stroke="#1a1a1a" stroke-width="0.3">p=0.11</text>
<text x="255.6" y="658.3" font-size="12" text-anchor="middle" fill="#1a1a1a" transform="rotate(-90 255.6 658.3)" stroke="#1a1a1a" stroke-width="0.3">% annexin V positive</text>
<line x1="514.5" y1="603.3" x2="514.5" y2="698.7" stroke="#3a3a3a" stroke-width="1.4"/>
<line x1="513.8" y1="698.1" x2="656.5" y2="698.1" stroke="#262626" stroke-width="1.45"/>
<line x1="510.9" y1="603.3" x2="514.5" y2="603.3" stroke="#3a3a3a" stroke-width="1.3"/>
<text x="0" y="0" font-size="7.2" font-weight="bold" text-anchor="end" fill="#111" transform="translate(508.9 606.4) scale(0.9 1)" stroke="#111" stroke-width="0.2">40</text>
<line x1="510.9" y1="626.8" x2="514.5" y2="626.8" stroke="#3a3a3a" stroke-width="1.3"/>
<text x="0" y="0" font-size="7.2" font-weight="bold" text-anchor="end" fill="#111" transform="translate(508.9 629.9) scale(0.9 1)" stroke="#111" stroke-width="0.2">30</text>
<line x1="510.9" y1="650.5" x2="514.5" y2="650.5" stroke="#3a3a3a" stroke-width="1.3"/>
<text x="0" y="0" font-size="7.2" font-weight="bold" text-anchor="end" fill="#111" transform="translate(508.9 653.6) scale(0.9 1)" stroke="#111" stroke-width="0.2">20</text>
<line x1="510.9" y1="674.4" x2="514.5" y2="674.4" stroke="#3a3a3a" stroke-width="1.3"/>
<text x="0" y="0" font-size="7.2" font-weight="bold" text-anchor="end" fill="#111" transform="translate(508.9 677.5) scale(0.9 1)" stroke="#111" stroke-width="0.2">10</text>
<line x1="510.9" y1="698.1" x2="514.5" y2="698.1" stroke="#3a3a3a" stroke-width="1.3"/>
<text x="0" y="0" font-size="7.2" font-weight="bold" text-anchor="end" fill="#111" transform="translate(508.9 701.2) scale(0.9 1)" stroke="#111" stroke-width="0.2">0</text>
<line x1="529.4" y1="698.1" x2="529.4" y2="702.3" stroke="#262626" stroke-width="1.3"/>
<line x1="552" y1="698.1" x2="552" y2="702.3" stroke="#262626" stroke-width="1.3"/>
<line x1="574.5" y1="698.1" x2="574.5" y2="702.3" stroke="#262626" stroke-width="1.3"/>
<line x1="596.9" y1="698.1" x2="596.9" y2="702.3" stroke="#262626" stroke-width="1.3"/>
<line x1="619" y1="698.1" x2="619" y2="702.3" stroke="#262626" stroke-width="1.3"/>
<line x1="641.6" y1="698.1" x2="641.6" y2="702.3" stroke="#262626" stroke-width="1.3"/>
<rect x="523.55" y="675.05" width="12.4" height="23.05" fill="#808080" stroke="#161616" stroke-width="1.5"/>
<rect x="545.75" y="668.65" width="12.7" height="29.45" fill="#ff8db5" stroke="#ff3b82" stroke-width="1.5"/>
<rect x="590.25" y="641.15" width="12.6" height="56.95" fill="#80c6c9" stroke="#14958f" stroke-width="1.5"/>
<rect x="612.75" y="653.85" width="12.8" height="44.25" fill="#a68bc9" stroke="#61289f" stroke-width="1.5"/>
<rect x="634.3" y="621.8" width="14.6" height="76.3" fill="#0577fb"/>
<line x1="529.4" y1="672" x2="529.4" y2="676" stroke="#161616" stroke-width="1"/>
<line x1="525.8" y1="672" x2="533" y2="672" stroke="#161616" stroke-width="1"/>
<line x1="525.8" y1="676" x2="533" y2="676" stroke="#161616" stroke-width="1"/>
<line x1="552" y1="666" x2="552" y2="670" stroke="#ff3b82" stroke-width="1"/>
<line x1="548.4" y1="666" x2="555.6" y2="666" stroke="#ff3b82" stroke-width="1"/>
<line x1="548.4" y1="670" x2="555.6" y2="670" stroke="#ff3b82" stroke-width="1"/>
<line x1="596.9" y1="636" x2="596.9" y2="644" stroke="#14958f" stroke-width="1"/>
<line x1="593.3" y1="636" x2="600.5" y2="636" stroke="#14958f" stroke-width="1"/>
<line x1="593.3" y1="644" x2="600.5" y2="644" stroke="#14958f" stroke-width="1"/>
<line x1="619" y1="649.3" x2="619" y2="656" stroke="#61289f" stroke-width="1"/>
<line x1="615.4" y1="649.3" x2="622.6" y2="649.3" stroke="#61289f" stroke-width="1"/>
<line x1="615.4" y1="656" x2="622.6" y2="656" stroke="#61289f" stroke-width="1"/>
<line x1="641.6" y1="617.7" x2="641.6" y2="626" stroke="#555555" stroke-width="1"/>
<line x1="638" y1="617.7" x2="645.2" y2="617.7" stroke="#555555" stroke-width="1"/>
<line x1="638" y1="626" x2="645.2" y2="626" stroke="#555555" stroke-width="1"/>
<circle cx="524.3" cy="672.3" r="2.15" fill="#111111"/>
<circle cx="524.3" cy="676.2" r="2.15" fill="#111111"/>
<circle cx="535.5" cy="669.6" r="2.15" fill="#111111"/>
<circle cx="529.7" cy="674.3" r="2.15" fill="#111111"/>
<circle cx="557.4" cy="663.4" r="2.15" fill="#ff2f7a"/>
<circle cx="552.3" cy="667" r="2.15" fill="#ff2f7a"/>
<circle cx="547.2" cy="669.9" r="2.15" fill="#ff2f7a"/>
<circle cx="596.9" cy="632.4" r="2.15" fill="#13928c"/>
<circle cx="591" cy="638.2" r="2.15" fill="#13928c"/>
<circle cx="596.9" cy="641.6" r="2.15" fill="#13928c"/>
<circle cx="602.3" cy="641.6" r="2.15" fill="#13928c"/>
<circle cx="596.9" cy="647" r="2.15" fill="#13928c"/>
<circle cx="619" cy="644.2" r="2.15" fill="#5f1fa0"/>
<circle cx="619" cy="651.6" r="2.15" fill="#5f1fa0"/>
<circle cx="613.5" cy="657.7" r="2.15" fill="#5f1fa0"/>
<circle cx="624.7" cy="656.6" r="2.15" fill="#5f1fa0"/>
<circle cx="641.6" cy="611.4" r="2.15" fill="#111111"/>
<circle cx="636.1" cy="620.1" r="2.15" fill="#111111"/>
<circle cx="647.5" cy="623.2" r="2.15" fill="#111111"/>
<circle cx="641.6" cy="632.3" r="2.15" fill="#111111"/>
<text x="519.5" y="713.6" font-size="12" fill="#1a1a1a" stroke="#1a1a1a" stroke-width="0.3">ctrl</text>
<text x="542.1" y="713.6" font-size="12" fill="#1a1a1a" stroke="#1a1a1a" stroke-width="0.3">siTAZ.</text>
<text x="587.5" y="713.6" font-size="12" fill="#1a1a1a" stroke="#1a1a1a" stroke-width="0.3">EV</text>
<text x="611" y="713.6" font-size="12" fill="#1a1a1a" stroke="#1a1a1a" stroke-width="0.3">Taz</text>
<text x="634.3" y="713.6" font-size="12" fill="#1a1a1a" stroke="#1a1a1a" stroke-width="0.3">TazH</text>
<polyline points="529.4,656.5 529.4,651.4 551.2,651.4 551.2,656.5" fill="none" stroke="#333" stroke-width="1.3" stroke-linejoin="miter" stroke-linecap="butt"/>
<text x="527.5" y="641.2" font-size="12" fill="#1a1a1a" stroke="#1a1a1a" stroke-width="0.3">p=0.029</text>
<polyline points="596.7,623.2 596.7,618.4 616.1,618.4 616.1,623.2" fill="none" stroke="#333" stroke-width="1.3" stroke-linejoin="miter" stroke-linecap="butt"/>
<text x="586.2" y="612.3" font-size="12" fill="#1a1a1a" stroke="#1a1a1a" stroke-width="0.3">p=0.014</text>
<polyline points="596.4,602.6 596.4,597.7 642.7,597.7 642.7,602.6" fill="none" stroke="#333" stroke-width="1.3" stroke-linejoin="miter" stroke-linecap="butt"/>
<text x="598.1" y="591.4" font-size="12" fill="#1a1a1a" stroke="#1a1a1a" stroke-width="0.3">p=0.012</text>
<text x="493.9" y="664.7" font-size="12" text-anchor="middle" fill="#1a1a1a" transform="rotate(-90 493.9 664.7)" stroke="#1a1a1a" stroke-width="0.3">% annexin V positive</text>
<line x1="281" y1="260.8" x2="281" y2="358.6" stroke="#1c1c1c" stroke-width="1.4"/>
<line x1="280.3" y1="358" x2="428.5" y2="358" stroke="#1c1c1c" stroke-width="1.4"/>
<line x1="278.7" y1="261.1" x2="281" y2="261.1" stroke="#1c1c1c" stroke-width="1.3"/>
<text x="0" y="0" font-size="8.3" font-weight="bold" text-anchor="end" fill="#111" transform="translate(276.1 264.67) scale(0.9 1)" stroke="#111" stroke-width="0.2">200</text>
<line x1="278.7" y1="285" x2="281" y2="285" stroke="#1c1c1c" stroke-width="1.3"/>
<text x="0" y="0" font-size="8.3" font-weight="bold" text-anchor="end" fill="#111" transform="translate(276.1 288.57) scale(0.9 1)" stroke="#111" stroke-width="0.2">150</text>
<line x1="278.7" y1="309.3" x2="281" y2="309.3" stroke="#1c1c1c" stroke-width="1.3"/>
<text x="0" y="0" font-size="8.3" font-weight="bold" text-anchor="end" fill="#111" transform="translate(276.1 312.87) scale(0.9 1)" stroke="#111" stroke-width="0.2">100</text>
<line x1="278.7" y1="333.7" x2="281" y2="333.7" stroke="#1c1c1c" stroke-width="1.3"/>
<text x="0" y="0" font-size="8.3" font-weight="bold" text-anchor="end" fill="#111" transform="translate(276.1 337.27) scale(0.9 1)" stroke="#111" stroke-width="0.2">50</text>
<line x1="278.7" y1="358" x2="281" y2="358" stroke="#1c1c1c" stroke-width="1.3"/>
<text x="0" y="0" font-size="8.3" font-weight="bold" text-anchor="end" fill="#111" transform="translate(276.1 361.57) scale(0.9 1)" stroke="#111" stroke-width="0.2">0</text>
<line x1="281" y1="358" x2="281" y2="362.5" stroke="#1c1c1c" stroke-width="1.3"/>
<text x="0" y="0" font-size="7.6" font-weight="bold" text-anchor="middle" fill="#111" transform="translate(281 370.8) scale(0.9 1)" stroke="#111" stroke-width="0.2">0</text>
<line x1="310.47" y1="358" x2="310.47" y2="362.5" stroke="#1c1c1c" stroke-width="1.3"/>
<text x="0" y="0" font-size="7.6" font-weight="bold" text-anchor="middle" fill="#111" transform="translate(310.47 370.8) scale(0.9 1)" stroke="#111" stroke-width="0.2">20</text>
<line x1="339.94" y1="358" x2="339.94" y2="362.5" stroke="#1c1c1c" stroke-width="1.3"/>
<text x="0" y="0" font-size="7.6" font-weight="bold" text-anchor="middle" fill="#111" transform="translate(339.94 370.8) scale(0.9 1)" stroke="#111" stroke-width="0.2">40</text>
<line x1="369.41" y1="358" x2="369.41" y2="362.5" stroke="#1c1c1c" stroke-width="1.3"/>
<text x="0" y="0" font-size="7.6" font-weight="bold" text-anchor="middle" fill="#111" transform="translate(369.41 370.8) scale(0.9 1)" stroke="#111" stroke-width="0.2">60</text>
<line x1="398.88" y1="358" x2="398.88" y2="362.5" stroke="#1c1c1c" stroke-width="1.3"/>
<text x="0" y="0" font-size="7.6" font-weight="bold" text-anchor="middle" fill="#111" transform="translate(398.88 370.8) scale(0.9 1)" stroke="#111" stroke-width="0.2">80</text>
<line x1="428.35" y1="358" x2="428.35" y2="362.5" stroke="#1c1c1c" stroke-width="1.3"/>
<text x="0" y="0" font-size="7.6" font-weight="bold" text-anchor="middle" fill="#111" transform="translate(428.35 370.8) scale(0.9 1)" stroke="#111" stroke-width="0.2">100</text>
<text x="343" y="385" font-size="12" fill="#1a1a1a" stroke="#1a1a1a" stroke-width="0.3">time mins</text>
<text x="254.3" y="309.8" font-size="12" text-anchor="middle" fill="#1a1a1a" transform="rotate(-90 254.3 309.8)" stroke="#1a1a1a" stroke-width="0.3">OCR pmoles/min/µg</text>
<text x="302.8" y="242.8" font-size="12" fill="#1a1a1a" stroke="#1a1a1a" stroke-width="0.3">oligo</text>
<text x="335" y="243.3" font-size="12" fill="#1a1a1a" stroke="#1a1a1a" stroke-width="0.3">FCCP</text>
<text x="372.8" y="243.3" font-size="12" fill="#1a1a1a" stroke="#1a1a1a" stroke-width="0.3">A/R</text>
<line x1="325.5" y1="252" x2="325.5" y2="270.4" stroke="#111" stroke-width="1.3"/>
<polygon points="321.8,269.9 329.2,269.9 325.5,276.4" fill="#111"/>
<line x1="351.8" y1="251.2" x2="351.8" y2="269.7" stroke="#111" stroke-width="1.3"/>
<polygon points="348.1,269.2 355.5,269.2 351.8,275.7" fill="#111"/>
<line x1="382.8" y1="252" x2="382.8" y2="270.4" stroke="#111" stroke-width="1.3"/>
<polygon points="379.1,269.9 386.5,269.9 382.8,276.4" fill="#111"/>
<line x1="330.54" y1="337.5" x2="330.54" y2="345.5" stroke="#ff3b82" stroke-width="1"/>
<line x1="328.34" y1="337.5" x2="332.74" y2="337.5" stroke="#ff3b82" stroke-width="1"/>
<line x1="328.34" y1="345.5" x2="332.74" y2="345.5" stroke="#ff3b82" stroke-width="1"/>
<line x1="340.09" y1="346.6" x2="340.09" y2="350.6" stroke="#ff3b82" stroke-width="1"/>
<line x1="337.89" y1="346.6" x2="342.29" y2="346.6" stroke="#ff3b82" stroke-width="1"/>
<line x1="337.89" y1="350.6" x2="342.29" y2="350.6" stroke="#ff3b82" stroke-width="1"/>
<line x1="349.65" y1="347.8" x2="349.65" y2="351.8" stroke="#ff3b82" stroke-width="1"/>
<line x1="347.45" y1="347.8" x2="351.85" y2="347.8" stroke="#ff3b82" stroke-width="1"/>
<line x1="347.45" y1="351.8" x2="351.85" y2="351.8" stroke="#ff3b82" stroke-width="1"/>
<line x1="359.2" y1="298.5" x2="359.2" y2="311.5" stroke="#ff3b82" stroke-width="1"/>
<line x1="357" y1="298.5" x2="361.4" y2="298.5" stroke="#ff3b82" stroke-width="1"/>
<line x1="357" y1="311.5" x2="361.4" y2="311.5" stroke="#ff3b82" stroke-width="1"/>
<line x1="368.76" y1="306.3" x2="368.76" y2="320.3" stroke="#ff3b82" stroke-width="1"/>
<line x1="366.56" y1="306.3" x2="370.96" y2="306.3" stroke="#ff3b82" stroke-width="1"/>
<line x1="366.56" y1="320.3" x2="370.96" y2="320.3" stroke="#ff3b82" stroke-width="1"/>
<line x1="378.31" y1="309.8" x2="378.31" y2="321.8" stroke="#ff3b82" stroke-width="1"/>
<line x1="376.11" y1="309.8" x2="380.51" y2="309.8" stroke="#ff3b82" stroke-width="1"/>
<line x1="376.11" y1="321.8" x2="380.51" y2="321.8" stroke="#ff3b82" stroke-width="1"/>
<line x1="387.87" y1="351" x2="387.87" y2="354" stroke="#ff3b82" stroke-width="1"/>
<line x1="385.67" y1="351" x2="390.07" y2="351" stroke="#ff3b82" stroke-width="1"/>
<line x1="385.67" y1="354" x2="390.07" y2="354" stroke="#ff3b82" stroke-width="1"/>
<line x1="397.42" y1="351" x2="397.42" y2="354" stroke="#ff3b82" stroke-width="1"/>
<line x1="395.22" y1="351" x2="399.62" y2="351" stroke="#ff3b82" stroke-width="1"/>
<line x1="395.22" y1="354" x2="399.62" y2="354" stroke="#ff3b82" stroke-width="1"/>
<line x1="406.98" y1="351" x2="406.98" y2="354" stroke="#ff3b82" stroke-width="1"/>
<line x1="404.78" y1="351" x2="409.18" y2="351" stroke="#ff3b82" stroke-width="1"/>
<line x1="404.78" y1="354" x2="409.18" y2="354" stroke="#ff3b82" stroke-width="1"/>
<polyline points="282.76,332 292.32,332.6 301.87,331.9 311.43,332.3 320.98,332.6 330.54,341.5 340.09,348.6 349.65,349.8 359.2,305 368.76,313.3 378.31,315.8 387.87,352.5 397.42,352.5 406.98,352.5" fill="none" stroke="#ff3b82" stroke-width="1.6"/>
<circle cx="282.76" cy="332" r="1.3" fill="#ff3b82"/>
<circle cx="292.32" cy="332.6" r="1.3" fill="#ff3b82"/>
<circle cx="301.87" cy="331.9" r="1.3" fill="#ff3b82"/>
<circle cx="311.43" cy="332.3" r="1.3" fill="#ff3b82"/>
<circle cx="320.98" cy="332.6" r="1.3" fill="#ff3b82"/>
<circle cx="330.54" cy="341.5" r="1.3" fill="#ff3b82"/>
<circle cx="340.09" cy="348.6" r="1.3" fill="#ff3b82"/>
<circle cx="349.65" cy="349.8" r="1.3" fill="#ff3b82"/>
<circle cx="359.2" cy="305" r="1.3" fill="#ff3b82"/>
<circle cx="368.76" cy="313.3" r="1.3" fill="#ff3b82"/>
<circle cx="378.31" cy="315.8" r="1.3" fill="#ff3b82"/>
<circle cx="387.87" cy="352.5" r="1.3" fill="#ff3b82"/>
<circle cx="397.42" cy="352.5" r="1.3" fill="#ff3b82"/>
<circle cx="406.98" cy="352.5" r="1.3" fill="#ff3b82"/>
<line x1="330.54" y1="343.3" x2="330.54" y2="346.3" stroke="#111" stroke-width="1"/>
<line x1="328.34" y1="343.3" x2="332.74" y2="343.3" stroke="#111" stroke-width="1"/>
<line x1="328.34" y1="346.3" x2="332.74" y2="346.3" stroke="#111" stroke-width="1"/>
<line x1="340.09" y1="342.8" x2="340.09" y2="346.8" stroke="#111" stroke-width="1"/>
<line x1="337.89" y1="342.8" x2="342.29" y2="342.8" stroke="#111" stroke-width="1"/>
<line x1="337.89" y1="346.8" x2="342.29" y2="346.8" stroke="#111" stroke-width="1"/>
<line x1="349.65" y1="343.1" x2="349.65" y2="347.1" stroke="#111" stroke-width="1"/>
<line x1="347.45" y1="343.1" x2="351.85" y2="343.1" stroke="#111" stroke-width="1"/>
<line x1="347.45" y1="347.1" x2="351.85" y2="347.1" stroke="#111" stroke-width="1"/>
<line x1="359.2" y1="276.7" x2="359.2" y2="288.7" stroke="#111" stroke-width="1"/>
<line x1="357" y1="276.7" x2="361.4" y2="276.7" stroke="#111" stroke-width="1"/>
<line x1="357" y1="288.7" x2="361.4" y2="288.7" stroke="#111" stroke-width="1"/>
<line x1="368.76" y1="278.7" x2="368.76" y2="287.7" stroke="#111" stroke-width="1"/>
<line x1="366.56" y1="278.7" x2="370.96" y2="278.7" stroke="#111" stroke-width="1"/>
<line x1="366.56" y1="287.7" x2="370.96" y2="287.7" stroke="#111" stroke-width="1"/>
<line x1="378.31" y1="280.2" x2="378.31" y2="290.6" stroke="#111" stroke-width="1"/>
<line x1="376.11" y1="280.2" x2="380.51" y2="280.2" stroke="#111" stroke-width="1"/>
<line x1="376.11" y1="290.6" x2="380.51" y2="290.6" stroke="#111" stroke-width="1"/>
<line x1="387.87" y1="346.8" x2="387.87" y2="351.8" stroke="#111" stroke-width="1"/>
<line x1="385.67" y1="346.8" x2="390.07" y2="346.8" stroke="#111" stroke-width="1"/>
<line x1="385.67" y1="351.8" x2="390.07" y2="351.8" stroke="#111" stroke-width="1"/>
<line x1="397.42" y1="347.5" x2="397.42" y2="352.5" stroke="#111" stroke-width="1"/>
<line x1="395.22" y1="347.5" x2="399.62" y2="347.5" stroke="#111" stroke-width="1"/>
<line x1="395.22" y1="352.5" x2="399.62" y2="352.5" stroke="#111" stroke-width="1"/>
<line x1="406.98" y1="348" x2="406.98" y2="353" stroke="#111" stroke-width="1"/>
<line x1="404.78" y1="348" x2="409.18" y2="348" stroke="#111" stroke-width="1"/>
<line x1="404.78" y1="353" x2="409.18" y2="353" stroke="#111" stroke-width="1"/>
<polyline points="282.76,329.9 292.32,331.3 301.87,330.7 311.43,331.3 320.98,331.3 330.54,344.8 340.09,344.8 349.65,345.1 359.2,282.7 368.76,283.2 378.31,285.4 387.87,349.3 397.42,350 406.98,350.5" fill="none" stroke="#111" stroke-width="1.6"/>
<circle cx="282.76" cy="329.9" r="1.3" fill="#111"/>
<circle cx="292.32" cy="331.3" r="1.3" fill="#111"/>
<circle cx="301.87" cy="330.7" r="1.3" fill="#111"/>
<circle cx="311.43" cy="331.3" r="1.3" fill="#111"/>
<circle cx="320.98" cy="331.3" r="1.3" fill="#111"/>
<circle cx="330.54" cy="344.8" r="1.3" fill="#111"/>
<circle cx="340.09" cy="344.8" r="1.3" fill="#111"/>
<circle cx="349.65" cy="345.1" r="1.3" fill="#111"/>
<circle cx="359.2" cy="282.7" r="1.3" fill="#111"/>
<circle cx="368.76" cy="283.2" r="1.3" fill="#111"/>
<circle cx="378.31" cy="285.4" r="1.3" fill="#111"/>
<circle cx="387.87" cy="349.3" r="1.3" fill="#111"/>
<circle cx="397.42" cy="350" r="1.3" fill="#111"/>
<circle cx="406.98" cy="350.5" r="1.3" fill="#111"/>
<line x1="410.6" y1="288.6" x2="421.9" y2="288.6" stroke="#111" stroke-width="1.8"/>
<text x="0" y="0" font-size="8.6" fill="#2a2a2a" transform="translate(427.1 292.6) scale(0.88 1)" stroke="#2a2a2a" stroke-width="0.3">ctrl</text>
<line x1="410.6" y1="302.6" x2="421.9" y2="302.6" stroke="#ff3b82" stroke-width="1.8"/>
<text x="0" y="0" font-size="8.6" fill="#2a2a2a" transform="translate(427.1 306.3) scale(0.88 1)" stroke="#2a2a2a" stroke-width="0.3">siTAZ</text>
<line x1="511.8" y1="259.6" x2="511.8" y2="358" stroke="#474747" stroke-width="1.4"/>
<line x1="511.1" y1="357.4" x2="659.4" y2="357.4" stroke="#474747" stroke-width="1.4"/>
<line x1="509.5" y1="259.6" x2="511.8" y2="259.6" stroke="#474747" stroke-width="1.3"/>
<text x="0" y="0" font-size="8.3" font-weight="bold" text-anchor="end" fill="#111" transform="translate(506.9 263.17) scale(0.9 1)" stroke="#111" stroke-width="0.2">250</text>
<line x1="509.5" y1="279.2" x2="511.8" y2="279.2" stroke="#474747" stroke-width="1.3"/>
<text x="0" y="0" font-size="8.3" font-weight="bold" text-anchor="end" fill="#111" transform="translate(506.9 282.77) scale(0.9 1)" stroke="#111" stroke-width="0.2">200</text>
<line x1="509.5" y1="298.8" x2="511.8" y2="298.8" stroke="#474747" stroke-width="1.3"/>
<text x="0" y="0" font-size="8.3" font-weight="bold" text-anchor="end" fill="#111" transform="translate(506.9 302.37) scale(0.9 1)" stroke="#111" stroke-width="0.2">150</text>
<line x1="509.5" y1="318.5" x2="511.8" y2="318.5" stroke="#474747" stroke-width="1.3"/>
<text x="0" y="0" font-size="8.3" font-weight="bold" text-anchor="end" fill="#111" transform="translate(506.9 322.07) scale(0.9 1)" stroke="#111" stroke-width="0.2">100</text>
<line x1="509.5" y1="338.2" x2="511.8" y2="338.2" stroke="#474747" stroke-width="1.3"/>
<text x="0" y="0" font-size="8.3" font-weight="bold" text-anchor="end" fill="#111" transform="translate(506.9 341.77) scale(0.9 1)" stroke="#111" stroke-width="0.2">50</text>
<line x1="509.5" y1="357.9" x2="511.8" y2="357.9" stroke="#474747" stroke-width="1.3"/>
<text x="0" y="0" font-size="8.3" font-weight="bold" text-anchor="end" fill="#111" transform="translate(506.9 361.47) scale(0.9 1)" stroke="#111" stroke-width="0.2">0</text>
<line x1="511.8" y1="357.4" x2="511.8" y2="361.9" stroke="#474747" stroke-width="1.3"/>
<text x="0" y="0" font-size="7.6" font-weight="bold" text-anchor="middle" fill="#111" transform="translate(511.8 370.8) scale(0.9 1)" stroke="#111" stroke-width="0.2">0</text>
<line x1="541.27" y1="357.4" x2="541.27" y2="361.9" stroke="#474747" stroke-width="1.3"/>
<text x="0" y="0" font-size="7.6" font-weight="bold" text-anchor="middle" fill="#111" transform="translate(541.27 370.8) scale(0.9 1)" stroke="#111" stroke-width="0.2">20</text>
<line x1="570.74" y1="357.4" x2="570.74" y2="361.9" stroke="#474747" stroke-width="1.3"/>
<text x="0" y="0" font-size="7.6" font-weight="bold" text-anchor="middle" fill="#111" transform="translate(570.74 370.8) scale(0.9 1)" stroke="#111" stroke-width="0.2">40</text>
<line x1="600.21" y1="357.4" x2="600.21" y2="361.9" stroke="#474747" stroke-width="1.3"/>
<text x="0" y="0" font-size="7.6" font-weight="bold" text-anchor="middle" fill="#111" transform="translate(600.21 370.8) scale(0.9 1)" stroke="#111" stroke-width="0.2">60</text>
<line x1="629.68" y1="357.4" x2="629.68" y2="361.9" stroke="#474747" stroke-width="1.3"/>
<text x="0" y="0" font-size="7.6" font-weight="bold" text-anchor="middle" fill="#111" transform="translate(629.68 370.8) scale(0.9 1)" stroke="#111" stroke-width="0.2">80</text>
<line x1="659.15" y1="357.4" x2="659.15" y2="361.9" stroke="#474747" stroke-width="1.3"/>
<text x="0" y="0" font-size="7.6" font-weight="bold" text-anchor="middle" fill="#111" transform="translate(659.15 370.8) scale(0.9 1)" stroke="#111" stroke-width="0.2">100</text>
<text x="568.6" y="383.3" font-size="12" fill="#1a1a1a" stroke="#1a1a1a" stroke-width="0.3">time mins</text>
<text x="488.7" y="306" font-size="12" text-anchor="middle" fill="#1a1a1a" transform="rotate(-90 488.7 306)" stroke="#1a1a1a" stroke-width="0.3">OCR pmoles/min/µg</text>
<text x="542.8" y="243.6" font-size="12" fill="#1a1a1a" stroke="#1a1a1a" stroke-width="0.3">oligo</text>
<text x="574.6" y="244.3" font-size="12" fill="#1a1a1a" stroke="#1a1a1a" stroke-width="0.3">FCCP</text>
<text x="613.5" y="244.3" font-size="12" fill="#1a1a1a" stroke="#1a1a1a" stroke-width="0.3">A/R</text>
<line x1="555.4" y1="247.6" x2="555.4" y2="265.3" stroke="#111" stroke-width="1.3"/>
<polygon points="551.7,264.8 559.1,264.8 555.4,271.3" fill="#111"/>
<line x1="585.9" y1="247.4" x2="585.9" y2="265.6" stroke="#111" stroke-width="1.3"/>
<polygon points="582.2,265.1 589.6,265.1 585.9,271.6" fill="#111"/>
<line x1="616.9" y1="248.3" x2="616.9" y2="266.9" stroke="#111" stroke-width="1.3"/>
<polygon points="613.2,266.4 620.6,266.4 616.9,272.9" fill="#111"/>
<line x1="589.79" y1="298.4" x2="589.79" y2="304" stroke="#25a97c" stroke-width="0.9"/>
<line x1="587.79" y1="298.4" x2="591.79" y2="298.4" stroke="#25a97c" stroke-width="0.9"/>
<line x1="587.79" y1="304" x2="591.79" y2="304" stroke="#25a97c" stroke-width="0.9"/>
<line x1="608.85" y1="299.2" x2="608.85" y2="305.6" stroke="#25a97c" stroke-width="0.9"/>
<line x1="606.85" y1="299.2" x2="610.85" y2="299.2" stroke="#25a97c" stroke-width="0.9"/>
<line x1="606.85" y1="305.6" x2="610.85" y2="305.6" stroke="#25a97c" stroke-width="0.9"/>
<line x1="589.79" y1="325.7" x2="589.79" y2="333.3" stroke="#2a86f3" stroke-width="0.9"/>
<line x1="587.79" y1="325.7" x2="591.79" y2="325.7" stroke="#2a86f3" stroke-width="0.9"/>
<line x1="587.79" y1="333.3" x2="591.79" y2="333.3" stroke="#2a86f3" stroke-width="0.9"/>
<polyline points="513.56,331.3 523.09,332.5 532.62,333 542.15,333 551.68,332.5 561.2,341.8 570.73,340.9 580.26,340.9 589.79,287.5 599.32,283.1 608.85,281.4 618.38,345.6 627.91,345.6 637.44,345.6" fill="none" stroke="#b07fea" stroke-width="1.4"/>
<rect x="511.26" y="329" width="4.6" height="4.6" fill="#b07fea"/>
<rect x="520.79" y="330.2" width="4.6" height="4.6" fill="#b07fea"/>
<rect x="530.32" y="330.7" width="4.6" height="4.6" fill="#b07fea"/>
<rect x="539.85" y="330.7" width="4.6" height="4.6" fill="#b07fea"/>
<rect x="549.38" y="330.2" width="4.6" height="4.6" fill="#b07fea"/>
<rect x="558.9" y="339.5" width="4.6" height="4.6" fill="#b07fea"/>
<rect x="568.43" y="338.6" width="4.6" height="4.6" fill="#b07fea"/>
<rect x="577.96" y="338.6" width="4.6" height="4.6" fill="#b07fea"/>
<rect x="587.49" y="285.2" width="4.6" height="4.6" fill="#b07fea"/>
<rect x="597.02" y="280.8" width="4.6" height="4.6" fill="#b07fea"/>
<rect x="606.55" y="279.1" width="4.6" height="4.6" fill="#b07fea"/>
<rect x="616.08" y="343.3" width="4.6" height="4.6" fill="#b07fea"/>
<rect x="625.61" y="343.3" width="4.6" height="4.6" fill="#b07fea"/>
<rect x="635.14" y="343.3" width="4.6" height="4.6" fill="#b07fea"/>
<polyline points="513.56,334.4 523.09,336.5 532.62,337 542.15,337 551.68,336.9 561.2,344.1 570.73,345 580.26,345.3 589.79,301.2 599.32,296.3 608.85,302.4 618.38,347.9 627.91,348.3 637.44,348.3" fill="none" stroke="#25a97c" stroke-width="1.4"/>
<circle cx="513.56" cy="334.4" r="2.4" fill="#25a97c"/>
<circle cx="523.09" cy="336.5" r="2.4" fill="#25a97c"/>
<circle cx="532.62" cy="337" r="2.4" fill="#25a97c"/>
<circle cx="542.15" cy="337" r="2.4" fill="#25a97c"/>
<circle cx="551.68" cy="336.9" r="2.4" fill="#25a97c"/>
<circle cx="561.2" cy="344.1" r="2.4" fill="#25a97c"/>
<circle cx="570.73" cy="345" r="2.4" fill="#25a97c"/>
<circle cx="580.26" cy="345.3" r="2.4" fill="#25a97c"/>
<circle cx="589.79" cy="301.2" r="2.4" fill="#25a97c"/>
<circle cx="599.32" cy="296.3" r="2.4" fill="#25a97c"/>
<circle cx="608.85" cy="302.4" r="2.4" fill="#25a97c"/>
<circle cx="618.38" cy="347.9" r="2.4" fill="#25a97c"/>
<circle cx="627.91" cy="348.3" r="2.4" fill="#25a97c"/>
<circle cx="637.44" cy="348.3" r="2.4" fill="#25a97c"/>
<polyline points="513.56,340.9 523.09,342.3 532.62,342.7 542.15,342.7 551.68,342.3 561.2,349.3 570.73,349.3 580.26,349.3 589.79,329.5 599.32,326 608.85,325.3 618.38,348.9 627.91,351.4 637.44,351.4" fill="none" stroke="#2a86f3" stroke-width="1.4"/>
<polygon points="510.96,342.9 516.16,342.9 513.56,338.3" fill="#2a86f3"/>
<polygon points="520.49,344.3 525.69,344.3 523.09,339.7" fill="#2a86f3"/>
<polygon points="530.02,344.7 535.22,344.7 532.62,340.1" fill="#2a86f3"/>
<polygon points="539.55,344.7 544.75,344.7 542.15,340.1" fill="#2a86f3"/>
<polygon points="549.08,344.3 554.28,344.3 551.68,339.7" fill="#2a86f3"/>
<polygon points="558.6,351.3 563.8,351.3 561.2,346.7" fill="#2a86f3"/>
<polygon points="568.13,351.3 573.33,351.3 570.73,346.7" fill="#2a86f3"/>
<polygon points="577.66,351.3 582.86,351.3 580.26,346.7" fill="#2a86f3"/>
<polygon points="587.19,331.5 592.39,331.5 589.79,326.9" fill="#2a86f3"/>
<polygon points="596.72,328 601.92,328 599.32,323.4" fill="#2a86f3"/>
<polygon points="606.25,327.3 611.45,327.3 608.85,322.7" fill="#2a86f3"/>
<polygon points="615.78,350.9 620.98,350.9 618.38,346.3" fill="#2a86f3"/>
<polygon points="625.31,353.4 630.51,353.4 627.91,348.8" fill="#2a86f3"/>
<polygon points="634.84,353.4 640.04,353.4 637.44,348.8" fill="#2a86f3"/>
<line x1="647.2" y1="266" x2="658.2" y2="266" stroke="#25a97c" stroke-width="1.4"/>
<circle cx="652.7" cy="266" r="2.1" fill="#25a97c"/>
<text x="0" y="0" font-size="8.6" fill="#2a2a2a" transform="translate(664 270.2) scale(0.88 1)" stroke="#2a2a2a" stroke-width="0.3">EV</text>
<line x1="647.2" y1="279.7" x2="658.2" y2="279.7" stroke="#b07fea" stroke-width="1.4"/>
<rect x="650.6" y="277.6" width="4.2" height="4.2" fill="#b07fea"/>
<text x="0" y="0" font-size="8.6" fill="#2a2a2a" transform="translate(664 283.6) scale(0.88 1)" stroke="#2a2a2a" stroke-width="0.3">Taz</text>
<line x1="647.2" y1="293.5" x2="658.2" y2="293.5" stroke="#2a86f3" stroke-width="1.4"/>
<polygon points="650.3,295.3 655.1,295.3 652.7,291.1" fill="#2a86f3"/>
<text x="0" y="0" font-size="8.6" fill="#2a2a2a" transform="translate(664.4 297.4) scale(0.88 1)" stroke="#2a2a2a" stroke-width="0.3">TazH</text>
<text x="35.5" y="60" font-size="12" fill="#1a1a1a" stroke="#1a1a1a" stroke-width="0.3">kDa</text>
<text x="77.4" y="64.4" font-size="12" fill="#1a1a1a" stroke="#1a1a1a" stroke-width="0.3">ctrl</text>
<text x="103.8" y="64.4" font-size="12" fill="#1a1a1a" stroke="#1a1a1a" stroke-width="0.3">siTAZ</text>
<text x="153.5" y="63.8" font-size="12" fill="#1a1a1a" stroke="#1a1a1a" stroke-width="0.3">EV</text>
<text x="176" y="63.8" font-size="12" fill="#1a1a1a" stroke="#1a1a1a" stroke-width="0.3">Taz</text>
<text x="203" y="63.8" font-size="12" fill="#1a1a1a" stroke="#1a1a1a" stroke-width="0.3">TazH</text>
<text x="59.5" y="74.4" font-size="12" fill="#1a1a1a" stroke="#1a1a1a" stroke-width="0.3">37</text>
<text x="59.5" y="108.3" font-size="12" fill="#1a1a1a" stroke="#1a1a1a" stroke-width="0.3">20</text>
<text x="60.2" y="141" font-size="12" fill="#1a1a1a" stroke="#1a1a1a" stroke-width="0.3">50</text>
<text x="60.2" y="191" font-size="12" fill="#1a1a1a" stroke="#1a1a1a" stroke-width="0.3">50</text>
<text x="245.6" y="88" font-size="12" fill="#1a1a1a" stroke="#1a1a1a" stroke-width="0.3">Tafazzin</text>
<text x="245.6" y="117.4" font-size="12" fill="#1a1a1a" stroke="#1a1a1a" stroke-width="0.3">CI</text>
<text x="245.6" y="147.1" font-size="12" fill="#1a1a1a" stroke="#1a1a1a" stroke-width="0.3">CS</text>
<text x="245.6" y="187.1" font-size="12" fill="#1a1a1a" stroke="#1a1a1a" stroke-width="0.3">Tub</text>
<rect x="78.9" y="74" width="45.1" height="19" fill="#8ec5f6" filter="url(#bb)"/>
<rect x="81.3" y="81" width="18.7" height="3.4" rx="1.7" fill="#27425a" opacity="0.95" filter="url(#bl)"/>
<rect x="103.8" y="81.4" width="17.5" height="2.6" rx="1.3" fill="#27425a" opacity="0.85" filter="url(#bl)"/>
<rect x="79" y="110" width="45" height="16.2" fill="#6ca0d9" filter="url(#bb)"/>
<rect x="80" y="113.5" width="20.5" height="4.6" rx="2" fill="#1c3046" opacity="0.95" filter="url(#bl)"/>
<rect x="103" y="113.7" width="19" height="3.8" rx="1.9" fill="#1c3046" opacity="0.85" filter="url(#bl)"/>
<rect x="78.9" y="133.9" width="47.1" height="21.8" fill="#8cc1f3" filter="url(#bb)"/>
<rect x="81.7" y="143.4" width="19.2" height="2.8" rx="1.4" fill="#284c6a" opacity="0.95" filter="url(#bl)"/>
<rect x="105.2" y="143.4" width="18.5" height="2.8" rx="1.4" fill="#284c6a" opacity="0.95" filter="url(#bl)"/>
<rect x="78.9" y="170.1" width="45.2" height="18.9" fill="#8cc3f4" filter="url(#bb)"/>
<rect x="80.3" y="176.7" width="20.1" height="3.4" rx="1.7" fill="#24465e" opacity="0.95" filter="url(#bl)"/>
<rect x="103.4" y="176.6" width="19.9" height="3.4" rx="1.7" fill="#24465e" opacity="0.95" filter="url(#bl)"/>
<rect x="145.8" y="74" width="85.8" height="19.3" fill="#90c6f8" filter="url(#bb)"/>
<rect x="155" y="81.4" width="17.5" height="2.4" rx="1.2" fill="#27425a" opacity="0.85" filter="url(#bl)"/>
<rect x="177.5" y="80.5" width="19" height="3.8" rx="1.9" fill="#27425a" opacity="0.85" filter="url(#bl)"/>
<rect x="200" y="80.5" width="17.5" height="3.8" rx="1.9" fill="#27425a" opacity="0.85" filter="url(#bl)"/>
<rect x="147.7" y="109" width="83.9" height="18" fill="#9cc2f0" filter="url(#bb)"/>
<rect x="156" y="110" width="18" height="16" rx="2" fill="#7ea3d2" opacity="0.55" filter="url(#bl2)"/>
<rect x="178" y="110" width="17.5" height="16" rx="2" fill="#7ea3d2" opacity="0.55" filter="url(#bl2)"/>
<rect x="199" y="110" width="18" height="16" rx="2" fill="#7ea3d2" opacity="0.55" filter="url(#bl2)"/>
<rect x="157" y="120" width="16" height="3" rx="1.5" fill="#5f82ab" opacity="0.5" filter="url(#bl)"/>
<rect x="178.5" y="119.7" width="17" height="3.2" rx="1.6" fill="#45688f" opacity="0.75" filter="url(#bl)"/>
<rect x="199.5" y="119.7" width="17" height="3.2" rx="1.6" fill="#45688f" opacity="0.75" filter="url(#bl)"/>
<rect x="198.5" y="110.05" width="7" height="4.5" rx="2" fill="#3e5f86" opacity="0.85" filter="url(#bl)"/>
<rect x="148.2" y="133.2" width="82.8" height="22.2" fill="#98b3f2" filter="url(#bb)"/>
<rect x="157.8" y="144.5" width="15.7" height="2.2" rx="1.1" fill="#33507a" opacity="0.9" filter="url(#bl)"/>
<rect x="178.7" y="144.3" width="17.1" height="3" rx="1.5" fill="#2a4670" opacity="0.95" filter="url(#bl)"/>
<rect x="200.3" y="144.3" width="16.8" height="3" rx="1.5" fill="#2a4670" opacity="0.95" filter="url(#bl)"/>
<rect x="146.8" y="170.8" width="86" height="17.6" fill="#8fc4f6" filter="url(#bb)"/>
<rect x="156.4" y="176.7" width="16.1" height="3.2" rx="1.6" fill="#0f2a48" opacity="0.95" filter="url(#bl)"/>
<rect x="176.6" y="176" width="17.8" height="3.6" rx="1.8" fill="#0f2a48" opacity="0.95" filter="url(#bl)"/>
<rect x="197.9" y="175.2" width="17.1" height="3.4" rx="1.7" fill="#0f2a48" opacity="0.95" filter="url(#bl)"/>
<line x1="354.8" y1="44.5" x2="354.8" y2="191.2" stroke="#3a3a3a" stroke-width="1.3"/>
<line x1="348.8" y1="191.2" x2="575" y2="191.2" stroke="#3a3a3a" stroke-width="1.4"/>
<line x1="349.2" y1="44.5" x2="354.8" y2="44.5" stroke="#3a3a3a" stroke-width="1.3"/>
<text x="0" y="0" font-size="10.8" font-weight="bold" text-anchor="end" fill="#1a1a1a" transform="translate(346.6 49.4) scale(0.92 1)" stroke="#1a1a1a" stroke-width="0.3">3</text>
<line x1="349.2" y1="93.3" x2="354.8" y2="93.3" stroke="#3a3a3a" stroke-width="1.3"/>
<text x="0" y="0" font-size="10.8" font-weight="bold" text-anchor="end" fill="#1a1a1a" transform="translate(346.6 98.2) scale(0.92 1)" stroke="#1a1a1a" stroke-width="0.3">2</text>
<line x1="349.2" y1="142.1" x2="354.8" y2="142.1" stroke="#3a3a3a" stroke-width="1.3"/>
<text x="0" y="0" font-size="10.8" font-weight="bold" text-anchor="end" fill="#1a1a1a" transform="translate(346.6 147) scale(0.92 1)" stroke="#1a1a1a" stroke-width="0.3">1</text>
<line x1="349.2" y1="191.2" x2="354.8" y2="191.2" stroke="#3a3a3a" stroke-width="1.3"/>
<text x="0" y="0" font-size="10.8" font-weight="bold" text-anchor="end" fill="#1a1a1a" transform="translate(346.6 196.1) scale(0.92 1)" stroke="#1a1a1a" stroke-width="0.3">0</text>
<line x1="390" y1="191.2" x2="390" y2="197" stroke="#3a3a3a" stroke-width="1.3"/>
<line x1="465" y1="191.2" x2="465" y2="197" stroke="#3a3a3a" stroke-width="1.3"/>
<line x1="539.8" y1="191.2" x2="539.8" y2="197" stroke="#3a3a3a" stroke-width="1.3"/>
<text x="386.7" y="210.7" font-size="12" text-anchor="middle" fill="#1a1a1a" stroke="#1a1a1a" stroke-width="0.3">Taz</text>
<text x="465.7" y="210.7" font-size="12" text-anchor="middle" fill="#1a1a1a" stroke="#1a1a1a" stroke-width="0.3">CI</text>
<text x="540.5" y="210.7" font-size="12" text-anchor="middle" fill="#1a1a1a" stroke="#1a1a1a" stroke-width="0.3">CS</text>
<text x="328.4" y="121.7" font-size="12" text-anchor="middle" fill="#1a1a1a" transform="rotate(-90 328.4 121.7)" stroke="#1a1a1a" stroke-width="0.3">normalized protein abundance</text>
<rect x="359.2" y="121" width="7.4" height="70.2" fill="#141414"/>
<rect x="361.27" y="124" width="3.26" height="67.2" fill="#8a8a8a"/>
<rect x="369.9" y="157.4" width="7.8" height="33.8" fill="#ff2b7b"/>
<rect x="372.08" y="160.4" width="3.43" height="30.8" fill="#ff9cc2"/>
<rect x="392.3" y="149" width="7.6" height="42.2" fill="#5badbf"/>
<rect x="394.43" y="152" width="3.34" height="39.2" fill="#8fcad3"/>
<rect x="403" y="76.9" width="8.3" height="114.3" fill="#9b4df5"/>
<rect x="405.32" y="79.9" width="3.65" height="111.3" fill="#dab4ff"/>
<rect x="414.7" y="85.7" width="7.8" height="105.5" fill="#0a6cf7"/>
<rect x="416.88" y="88.7" width="3.43" height="102.5" fill="#2a84f8"/>
<rect x="432.7" y="99" width="8.6" height="92.2" fill="#141414"/>
<rect x="435.11" y="102" width="3.78" height="89.2" fill="#8a8a8a"/>
<rect x="444.2" y="137.4" width="7.7" height="53.8" fill="#ff2b7b"/>
<rect x="446.36" y="140.4" width="3.39" height="50.8" fill="#ff9cc2"/>
<rect x="467" y="111.2" width="7.2" height="80" fill="#5badbf"/>
<rect x="469.02" y="114.2" width="3.17" height="77" fill="#8fcad3"/>
<rect x="478.2" y="128.7" width="7.3" height="62.5" fill="#9b4df5"/>
<rect x="480.24" y="131.7" width="3.21" height="59.5" fill="#dab4ff"/>
<rect x="489.1" y="99" width="7.8" height="92.2" fill="#0a6cf7"/>
<rect x="491.28" y="102" width="3.43" height="89.2" fill="#2a84f8"/>
<rect x="507.6" y="163.7" width="8.1" height="27.5" fill="#141414"/>
<rect x="509.87" y="166.7" width="3.56" height="24.5" fill="#8a8a8a"/>
<rect x="519" y="168.8" width="7.6" height="22.4" fill="#ff2b7b"/>
<rect x="521.13" y="171.8" width="3.34" height="19.4" fill="#ff9cc2"/>
<rect x="541.9" y="163" width="6.7" height="28.2" fill="#5badbf"/>
<rect x="543.78" y="166" width="2.95" height="25.2" fill="#8fcad3"/>
<rect x="552.6" y="164" width="7" height="27.2" fill="#9b4df5"/>
<rect x="554.56" y="167" width="3.08" height="24.2" fill="#dab4ff"/>
<rect x="563.8" y="164" width="7.7" height="27.2" fill="#0a6cf7"/>
<rect x="565.96" y="167" width="3.39" height="24.2" fill="#2a84f8"/>
<circle cx="361.6" cy="110.3" r="2.8" fill="#141414"/>
<circle cx="364.4" cy="110.3" r="2.8" fill="#141414"/>
<circle cx="363" cy="121.5" r="2.8" fill="#141414"/>
<circle cx="363" cy="139.6" r="2.8" fill="#141414"/>
<circle cx="361.5" cy="121" r="2.8" fill="#141414"/>
<circle cx="364.5" cy="121" r="2.8" fill="#141414"/>
<circle cx="373.8" cy="150.6" r="2.8" fill="#ff2b7b"/>
<circle cx="373.4" cy="154" r="2.8" fill="#ff2b7b"/>
<circle cx="373.8" cy="176" r="2.8" fill="#ff2b7b"/>
<circle cx="373.8" cy="164" r="2.8" fill="#ff2b7b"/>
<circle cx="396.1" cy="133" r="2.8" fill="#5badbf"/>
<circle cx="396.5" cy="138.2" r="2.8" fill="#5badbf"/>
<circle cx="396.5" cy="150" r="2.8" fill="#5badbf"/>
<circle cx="396.1" cy="186" r="2.8" fill="#5badbf"/>
<circle cx="407.2" cy="56.6" r="2.8" fill="#9b4df5"/>
<circle cx="407.2" cy="78" r="2.8" fill="#9b4df5"/>
<circle cx="407.2" cy="80.5" r="2.8" fill="#9b4df5"/>
<circle cx="418.7" cy="62.8" r="2.8" fill="#0a6cf7"/>
<circle cx="418.7" cy="72.6" r="2.8" fill="#0a6cf7"/>
<circle cx="418.7" cy="83.2" r="2.8" fill="#0a6cf7"/>
<circle cx="418.7" cy="112.4" r="2.8" fill="#0a6cf7"/>
<circle cx="437.2" cy="83.2" r="2.8" fill="#141414"/>
<circle cx="437.2" cy="89.8" r="2.8" fill="#141414"/>
<circle cx="437.2" cy="96.4" r="2.8" fill="#141414"/>
<circle cx="437.2" cy="133.8" r="2.8" fill="#141414"/>
<circle cx="448.1" cy="116.3" r="2.8" fill="#ff2b7b"/>
<circle cx="448.1" cy="132.6" r="2.8" fill="#ff2b7b"/>
<circle cx="448.1" cy="161" r="2.8" fill="#ff2b7b"/>
<circle cx="470.4" cy="88" r="2.8" fill="#5badbf"/>
<circle cx="470.4" cy="97.6" r="2.8" fill="#5badbf"/>
<circle cx="470.4" cy="105.6" r="2.8" fill="#5badbf"/>
<circle cx="470.4" cy="151" r="2.8" fill="#5badbf"/>
<circle cx="481.7" cy="112.6" r="2.8" fill="#9b4df5"/>
<circle cx="481.7" cy="129" r="2.8" fill="#9b4df5"/>
<circle cx="481.7" cy="133" r="2.8" fill="#9b4df5"/>
<circle cx="493" cy="72.6" r="2.8" fill="#0a6cf7"/>
<circle cx="493" cy="89.6" r="2.8" fill="#0a6cf7"/>
<circle cx="493" cy="130" r="2.8" fill="#0a6cf7"/>
<circle cx="511.8" cy="155.8" r="2.8" fill="#141414"/>
<circle cx="511.8" cy="160" r="2.8" fill="#141414"/>
<circle cx="511.8" cy="165" r="2.8" fill="#141414"/>
<circle cx="511.8" cy="170" r="2.8" fill="#141414"/>
<circle cx="522.8" cy="159.5" r="2.8" fill="#ff2b7b"/>
<circle cx="522.8" cy="163" r="2.8" fill="#ff2b7b"/>
<circle cx="545.3" cy="159.5" r="2.8" fill="#5badbf"/>
<circle cx="545.3" cy="162.5" r="2.8" fill="#5badbf"/>
<circle cx="556.1" cy="159.7" r="2.8" fill="#9b4df5"/>
<circle cx="556.1" cy="163" r="2.8" fill="#9b4df5"/>
<circle cx="567.6" cy="159.3" r="2.8" fill="#0a6cf7"/>
<circle cx="567.6" cy="162.5" r="2.8" fill="#0a6cf7"/>
<line x1="363" y1="116.5" x2="363" y2="121" stroke="#141414" stroke-width="1"/>
<line x1="360.8" y1="116.5" x2="365.2" y2="116.5" stroke="#141414" stroke-width="1"/>
<line x1="407.2" y1="72" x2="407.2" y2="77" stroke="#9b4df5" stroke-width="1"/>
<line x1="405" y1="72" x2="409.4" y2="72" stroke="#9b4df5" stroke-width="1"/>
<line x1="418.7" y1="82" x2="418.7" y2="86" stroke="#0a6cf7" stroke-width="1"/>
<line x1="416.5" y1="82" x2="420.9" y2="82" stroke="#0a6cf7" stroke-width="1"/>
<line x1="396.1" y1="143.5" x2="396.1" y2="149" stroke="#5badbf" stroke-width="1"/>
<line x1="393.9" y1="143.5" x2="398.3" y2="143.5" stroke="#5badbf" stroke-width="1"/>
<line x1="481.7" y1="124.5" x2="481.7" y2="129" stroke="#9b4df5" stroke-width="1"/>
<line x1="479.5" y1="124.5" x2="483.9" y2="124.5" stroke="#9b4df5" stroke-width="1"/>
<line x1="493" y1="90" x2="493" y2="99" stroke="#0a6cf7" stroke-width="1"/>
<line x1="490.8" y1="90" x2="495.2" y2="90" stroke="#0a6cf7" stroke-width="1"/>
<line x1="437.2" y1="96" x2="437.2" y2="99.5" stroke="#141414" stroke-width="1"/>
<line x1="435" y1="96" x2="439.4" y2="96" stroke="#141414" stroke-width="1"/>
<polyline points="363.8,101.8 363.8,94.2 377,94.2 377,101.8" fill="none" stroke="#1c1c1c" stroke-width="1.9" stroke-linejoin="miter" stroke-linecap="butt"/>
<text x="360" y="88.6" font-size="12" fill="#1a1a1a" stroke="#1a1a1a" stroke-width="0.3">p=0.001</text>
<polyline points="393,46.7 393,39.1 410.8,39.1 410.8,46.7" fill="none" stroke="#1c1c1c" stroke-width="1.9" stroke-linejoin="miter" stroke-linecap="butt"/>
<text x="377.7" y="34.9" font-size="12" fill="#1a1a1a" stroke="#1a1a1a" stroke-width="0.3">p=0.002</text>
<polyline points="392.4,19.7 392.4,12.4 418.2,12.4 418.2,19.7" fill="none" stroke="#1c1c1c" stroke-width="1.9" stroke-linejoin="miter" stroke-linecap="butt"/>
<text x="385.8" y="9" font-size="12" fill="#1a1a1a" stroke="#1a1a1a" stroke-width="0.3">p=0.001</text>
<polyline points="438.4,76.2 438.4,68.3 449.3,68.3 449.3,76.2" fill="none" stroke="#1c1c1c" stroke-width="1.9" stroke-linejoin="miter" stroke-linecap="butt"/>
<text x="429.6" y="62.8" font-size="12" fill="#1a1a1a" stroke="#1a1a1a" stroke-width="0.3">p=0.03</text>
<polyline points="468.5,46.7 468.5,39.1 493.3,39.1 493.3,46.7" fill="none" stroke="#1c1c1c" stroke-width="1.9" stroke-linejoin="miter" stroke-linecap="butt"/>
<text x="467.9" y="34.6" font-size="12" fill="#1a1a1a" stroke="#1a1a1a" stroke-width="0.3">p&gt;0.05</text>
<polyline points="512.4,150.6 512.4,143.6 525.1,143.6 525.1,150.6" fill="none" stroke="#1c1c1c" stroke-width="1.9" stroke-linejoin="miter" stroke-linecap="butt"/>
<text x="508" y="141.8" font-size="12" fill="#1a1a1a" stroke="#1a1a1a" stroke-width="0.3">p&gt;0.05</text>
<polyline points="541.9,121.4 541.9,114.8 569.3,114.8 569.3,121.4" fill="none" stroke="#1c1c1c" stroke-width="1.9" stroke-linejoin="miter" stroke-linecap="butt"/>
<text x="538.7" y="112.6" font-size="12" fill="#1a1a1a" stroke="#1a1a1a" stroke-width="0.3">p&gt;0.05</text>
<rect x="611.5" y="88.7" width="13.2" height="11.4" fill="#585858" stroke="#111111" stroke-width="1.4"/>
<text x="631.5" y="98.7" font-size="12" fill="#1a1a1a" stroke="#1a1a1a" stroke-width="0.3">ctrl</text>
<rect x="611.5" y="109" width="13.2" height="11.6" fill="#ff82aa" stroke="#ff30f0" stroke-width="1.4"/>
<text x="631.5" y="120.3" font-size="12" fill="#1a1a1a" stroke="#1a1a1a" stroke-width="0.3">siTAZ</text>
<rect x="611.5" y="128.7" width="13.2" height="11.4" fill="#4fb2a2" stroke="#4fb2a2" stroke-width="1.4"/>
<text x="631.5" y="140.8" font-size="12" fill="#1a1a1a" stroke="#1a1a1a" stroke-width="0.3">EV</text>
<rect x="611.5" y="149.9" width="13.2" height="11.6" fill="#c8a2e6" stroke="#9a33f5" stroke-width="1.4"/>
<text x="631.5" y="162.2" font-size="12" fill="#1a1a1a" stroke="#1a1a1a" stroke-width="0.3">Taz</text>
<rect x="611.5" y="171" width="13.2" height="12" fill="#3c8af0" stroke="#0a3cf5" stroke-width="1.4"/>
<text x="631.5" y="181.3" font-size="12" fill="#1a1a1a" stroke="#1a1a1a" stroke-width="0.3">TazH</text>
</svg>
</body></html>
